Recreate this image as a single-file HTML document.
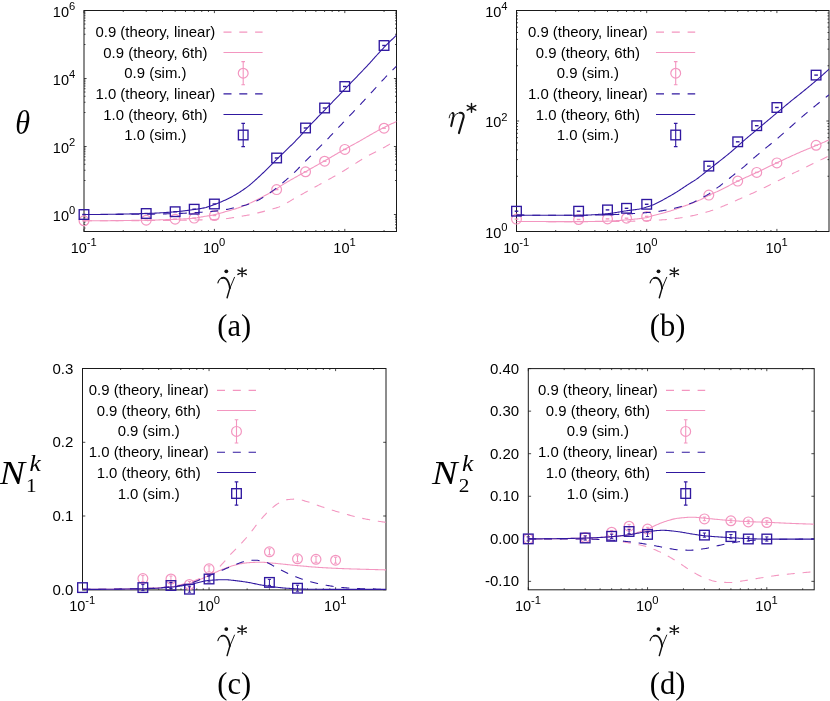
<!DOCTYPE html>
<html><head><meta charset="utf-8"><title>figure</title>
<style>
html,body{margin:0;padding:0;background:#fff;}
body{width:830px;height:701px;overflow:hidden;font-family:"Liberation Sans",sans-serif;}
svg{display:block;}
svg text{font-family:"Liberation Sans",sans-serif;}
</style></head><body>
<svg width="830" height="701" viewBox="0 0 830 701">
<rect width="830" height="701" fill="#fff"/>
<rect x="84.0" y="10.5" width="312.5" height="221.0" fill="none" stroke="#1a1a1a" stroke-width="1"/>
<path d="M84.00,231.5v-2.6M84.00,10.5v2.6M123.25,231.5v-1.5M123.25,10.5v1.5M146.22,231.5v-1.5M146.22,10.5v1.5M162.51,231.5v-1.5M162.51,10.5v1.5M175.15,231.5v-1.5M175.15,10.5v1.5M185.47,231.5v-1.5M185.47,10.5v1.5M194.20,231.5v-1.5M194.20,10.5v1.5M201.76,231.5v-1.5M201.76,10.5v1.5M208.43,231.5v-1.5M208.43,10.5v1.5M214.40,231.5v-2.6M214.40,10.5v2.6M253.65,231.5v-1.5M253.65,10.5v1.5M276.62,231.5v-1.5M276.62,10.5v1.5M292.91,231.5v-1.5M292.91,10.5v1.5M305.55,231.5v-1.5M305.55,10.5v1.5M315.87,231.5v-1.5M315.87,10.5v1.5M324.60,231.5v-1.5M324.60,10.5v1.5M332.16,231.5v-1.5M332.16,10.5v1.5M338.83,231.5v-1.5M338.83,10.5v1.5M344.80,231.5v-2.6M344.80,10.5v2.6M384.05,231.5v-1.5M384.05,10.5v1.5" stroke="#1a1a1a" stroke-width="0.8" fill="none"/>
<path d="M84.0,228.03h1.5M396.5,228.03h-1.5M84.0,224.74h1.5M396.5,224.74h-1.5M84.0,222.04h1.5M396.5,222.04h-1.5M84.0,219.77h1.5M396.5,219.77h-1.5M84.0,217.79h1.5M396.5,217.79h-1.5M84.0,216.06h1.5M396.5,216.06h-1.5M84.0,214.50h2.6M396.5,214.50h-2.6M84.0,180.50h1.5M396.5,180.50h-1.5M84.0,170.26h1.5M396.5,170.26h-1.5M84.0,164.28h1.5M396.5,164.28h-1.5M84.0,160.03h1.5M396.5,160.03h-1.5M84.0,156.74h1.5M396.5,156.74h-1.5M84.0,154.04h1.5M396.5,154.04h-1.5M84.0,151.77h1.5M396.5,151.77h-1.5M84.0,149.79h1.5M396.5,149.79h-1.5M84.0,148.06h1.5M396.5,148.06h-1.5M84.0,146.50h2.6M396.5,146.50h-2.6M84.0,112.50h1.5M396.5,112.50h-1.5M84.0,102.26h1.5M396.5,102.26h-1.5M84.0,96.28h1.5M396.5,96.28h-1.5M84.0,92.03h1.5M396.5,92.03h-1.5M84.0,88.74h1.5M396.5,88.74h-1.5M84.0,86.04h1.5M396.5,86.04h-1.5M84.0,83.77h1.5M396.5,83.77h-1.5M84.0,81.79h1.5M396.5,81.79h-1.5M84.0,80.06h1.5M396.5,80.06h-1.5M84.0,78.50h2.6M396.5,78.50h-2.6M84.0,44.50h1.5M396.5,44.50h-1.5M84.0,34.26h1.5M396.5,34.26h-1.5M84.0,28.28h1.5M396.5,28.28h-1.5M84.0,24.03h1.5M396.5,24.03h-1.5M84.0,20.74h1.5M396.5,20.74h-1.5M84.0,18.04h1.5M396.5,18.04h-1.5M84.0,15.77h1.5M396.5,15.77h-1.5M84.0,13.79h1.5M396.5,13.79h-1.5M84.0,12.06h1.5M396.5,12.06h-1.5M84.0,10.50h2.6M396.5,10.50h-2.6" stroke="#1a1a1a" stroke-width="0.8" fill="none"/>
<clipPath id="ca"><rect x="84.0" y="10.5" width="312.5" height="221.0"/></clipPath><g clip-path="url(#ca)">
<path d="M84.0,220.80 L85.0,220.80 L86.0,220.80 L87.0,220.80 L88.0,220.80 L89.0,220.80 L90.0,220.80 L91.0,220.80 L92.0,220.80 L93.0,220.79 L94.0,220.79 L95.0,220.79 L96.0,220.79 L97.0,220.79 L98.0,220.79 L99.0,220.78 L100.0,220.78 L101.0,220.78 L102.0,220.78 L103.0,220.78 L104.0,220.77 L105.0,220.77 L106.0,220.77 L107.0,220.77 L108.0,220.76 L109.0,220.76 L110.0,220.76 L111.0,220.75 L112.0,220.75 L113.0,220.75 L114.0,220.74 L115.0,220.74 L116.0,220.74 L117.0,220.73 L118.0,220.73 L119.0,220.73 L120.0,220.72 L121.0,220.72 L122.0,220.71 L123.0,220.71 L124.0,220.71 L125.0,220.70 L126.0,220.70 L127.0,220.69 L128.0,220.69 L129.0,220.68 L130.0,220.68 L131.0,220.67 L132.0,220.67 L133.0,220.67 L134.0,220.66 L135.0,220.66 L136.0,220.65 L137.0,220.65 L138.0,220.64 L139.0,220.64 L140.0,220.63 L141.0,220.63 L142.0,220.62 L143.0,220.62 L144.0,220.61 L145.0,220.61 L146.0,220.60 L147.0,220.59 L148.0,220.59 L149.0,220.58 L150.0,220.57 L151.0,220.57 L152.0,220.56 L153.0,220.55 L154.0,220.54 L155.0,220.53 L156.0,220.52 L157.0,220.51 L158.0,220.50 L159.0,220.49 L160.0,220.48 L161.0,220.47 L162.0,220.46 L163.0,220.45 L164.0,220.44 L165.0,220.42 L166.0,220.41 L167.0,220.40 L168.0,220.39 L169.0,220.38 L170.0,220.36 L171.0,220.35 L172.0,220.34 L173.0,220.33 L174.0,220.31 L175.0,220.30 L176.0,220.29 L177.0,220.27 L178.0,220.26 L179.0,220.25 L180.0,220.23 L181.0,220.22 L182.0,220.20 L183.0,220.19 L184.0,220.17 L185.0,220.16 L186.0,220.14 L187.0,220.13 L188.0,220.11 L189.0,220.09 L190.0,220.07 L191.0,220.06 L192.0,220.04 L193.0,220.02 L194.0,220.00 L195.0,219.98 L196.0,219.96 L197.0,219.94 L198.0,219.92 L199.0,219.90 L200.0,219.88 L201.0,219.86 L202.0,219.84 L203.0,219.82 L204.0,219.80 L205.0,219.77 L206.0,219.75 L207.0,219.72 L208.0,219.70 L209.0,219.67 L210.0,219.64 L211.0,219.61 L212.0,219.57 L213.0,219.54 L214.0,219.50 L215.0,219.46 L216.0,219.41 L217.0,219.36 L218.0,219.30 L219.0,219.24 L220.0,219.17 L221.0,219.10 L222.0,219.02 L223.0,218.94 L224.0,218.86 L225.0,218.77 L226.0,218.67 L227.0,218.56 L228.0,218.43 L229.0,218.29 L230.0,218.13 L231.0,217.97 L232.0,217.80 L233.0,217.62 L234.0,217.44 L235.0,217.26 L236.0,217.08 L237.0,216.90 L238.0,216.73 L239.0,216.57 L240.0,216.41 L241.0,216.25 L242.0,216.10 L243.0,215.94 L244.0,215.78 L245.0,215.62 L246.0,215.45 L247.0,215.28 L248.0,215.10 L249.0,214.92 L250.0,214.72 L251.0,214.52 L252.0,214.30 L253.0,214.08 L254.0,213.85 L255.0,213.62 L256.0,213.37 L257.0,213.13 L258.0,212.88 L259.0,212.63 L260.0,212.38 L261.0,212.13 L262.0,211.87 L263.0,211.62 L264.0,211.36 L265.0,211.10 L266.0,210.83 L267.0,210.56 L268.0,210.29 L269.0,210.01 L270.0,209.73 L271.0,209.44 L272.0,209.15 L273.0,208.85 L274.0,208.56 L275.0,208.26 L276.0,207.95 L277.0,207.63 L278.0,207.29 L279.0,206.92 L280.0,206.52 L281.0,206.08 L282.0,205.61 L283.0,205.11 L284.0,204.59 L285.0,204.04 L286.0,203.47 L287.0,202.89 L288.0,202.30 L289.0,201.70 L290.0,201.09 L291.0,200.48 L292.0,199.87 L293.0,199.27 L294.0,198.68 L295.0,198.09 L296.0,197.52 L297.0,196.97 L298.0,196.42 L299.0,195.87 L300.0,195.31 L301.0,194.76 L302.0,194.21 L303.0,193.67 L304.0,193.12 L305.0,192.57 L306.0,192.02 L307.0,191.47 L308.0,190.92 L309.0,190.37 L310.0,189.82 L311.0,189.27 L312.0,188.72 L313.0,188.17 L314.0,187.61 L315.0,187.06 L316.0,186.51 L317.0,185.96 L318.0,185.40 L319.0,184.85 L320.0,184.30 L321.0,183.74 L322.0,183.19 L323.0,182.63 L324.0,182.08 L325.0,181.52 L326.0,180.96 L327.0,180.40 L328.0,179.84 L329.0,179.29 L330.0,178.73 L331.0,178.17 L332.0,177.62 L333.0,177.06 L334.0,176.51 L335.0,175.95 L336.0,175.39 L337.0,174.82 L338.0,174.25 L339.0,173.67 L340.0,173.09 L341.0,172.50 L342.0,171.90 L343.0,171.29 L344.0,170.67 L345.0,170.05 L346.0,169.42 L347.0,168.79 L348.0,168.15 L349.0,167.51 L350.0,166.87 L351.0,166.23 L352.0,165.60 L353.0,164.96 L354.0,164.34 L355.0,163.71 L356.0,163.09 L357.0,162.46 L358.0,161.82 L359.0,161.19 L360.0,160.55 L361.0,159.92 L362.0,159.30 L363.0,158.68 L364.0,158.06 L365.0,157.46 L366.0,156.88 L367.0,156.30 L368.0,155.75 L369.0,155.21 L370.0,154.69 L371.0,154.18 L372.0,153.69 L373.0,153.21 L374.0,152.73 L375.0,152.25 L376.0,151.76 L377.0,151.28 L378.0,150.78 L379.0,150.27 L380.0,149.75 L381.0,149.21 L382.0,148.66 L383.0,148.10 L384.0,147.54 L385.0,146.97 L386.0,146.39 L387.0,145.81 L388.0,145.23 L389.0,144.64 L390.0,144.06 L391.0,143.48 L392.0,142.89 L393.0,142.32 L394.0,141.74 L395.0,141.17 L396.0,140.60 L396.7,140.20" fill="none" stroke="#f396c0" stroke-width="1.08" stroke-dasharray="8 7.8"/>
<path d="M84.0,220.80 L85.0,220.80 L86.0,220.80 L87.0,220.80 L88.0,220.80 L89.0,220.79 L90.0,220.79 L91.0,220.79 L92.0,220.79 L93.0,220.78 L94.0,220.78 L95.0,220.78 L96.0,220.77 L97.0,220.77 L98.0,220.76 L99.0,220.75 L100.0,220.75 L101.0,220.74 L102.0,220.74 L103.0,220.73 L104.0,220.72 L105.0,220.71 L106.0,220.71 L107.0,220.70 L108.0,220.69 L109.0,220.68 L110.0,220.67 L111.0,220.66 L112.0,220.65 L113.0,220.64 L114.0,220.63 L115.0,220.62 L116.0,220.61 L117.0,220.60 L118.0,220.59 L119.0,220.58 L120.0,220.57 L121.0,220.55 L122.0,220.54 L123.0,220.53 L124.0,220.52 L125.0,220.50 L126.0,220.49 L127.0,220.48 L128.0,220.47 L129.0,220.45 L130.0,220.44 L131.0,220.42 L132.0,220.41 L133.0,220.40 L134.0,220.38 L135.0,220.37 L136.0,220.35 L137.0,220.34 L138.0,220.32 L139.0,220.31 L140.0,220.29 L141.0,220.28 L142.0,220.26 L143.0,220.25 L144.0,220.23 L145.0,220.22 L146.0,220.20 L147.0,220.18 L148.0,220.17 L149.0,220.15 L150.0,220.13 L151.0,220.10 L152.0,220.08 L153.0,220.06 L154.0,220.03 L155.0,220.01 L156.0,219.98 L157.0,219.95 L158.0,219.92 L159.0,219.89 L160.0,219.86 L161.0,219.83 L162.0,219.79 L163.0,219.76 L164.0,219.72 L165.0,219.69 L166.0,219.65 L167.0,219.62 L168.0,219.58 L169.0,219.54 L170.0,219.50 L171.0,219.46 L172.0,219.42 L173.0,219.38 L174.0,219.34 L175.0,219.30 L176.0,219.26 L177.0,219.22 L178.0,219.17 L179.0,219.13 L180.0,219.09 L181.0,219.04 L182.0,219.00 L183.0,218.95 L184.0,218.89 L185.0,218.84 L186.0,218.78 L187.0,218.72 L188.0,218.66 L189.0,218.60 L190.0,218.53 L191.0,218.45 L192.0,218.37 L193.0,218.29 L194.0,218.20 L195.0,218.09 L196.0,217.96 L197.0,217.81 L198.0,217.63 L199.0,217.45 L200.0,217.26 L201.0,217.06 L202.0,216.87 L203.0,216.68 L204.0,216.50 L205.0,216.33 L206.0,216.17 L207.0,216.01 L208.0,215.86 L209.0,215.70 L210.0,215.53 L211.0,215.37 L212.0,215.19 L213.0,215.00 L214.0,214.80 L215.0,214.58 L216.0,214.35 L217.0,214.10 L218.0,213.84 L219.0,213.57 L220.0,213.29 L221.0,213.00 L222.0,212.71 L223.0,212.41 L224.0,212.12 L225.0,211.82 L226.0,211.53 L227.0,211.24 L228.0,210.96 L229.0,210.68 L230.0,210.40 L231.0,210.11 L232.0,209.83 L233.0,209.54 L234.0,209.24 L235.0,208.94 L236.0,208.62 L237.0,208.30 L238.0,207.97 L239.0,207.62 L240.0,207.26 L241.0,206.89 L242.0,206.50 L243.0,206.11 L244.0,205.70 L245.0,205.29 L246.0,204.87 L247.0,204.44 L248.0,204.01 L249.0,203.57 L250.0,203.12 L251.0,202.66 L252.0,202.20 L253.0,201.72 L254.0,201.23 L255.0,200.73 L256.0,200.23 L257.0,199.72 L258.0,199.21 L259.0,198.69 L260.0,198.17 L261.0,197.65 L262.0,197.13 L263.0,196.61 L264.0,196.09 L265.0,195.56 L266.0,195.03 L267.0,194.50 L268.0,193.96 L269.0,193.40 L270.0,192.85 L271.0,192.28 L272.0,191.69 L273.0,191.10 L274.0,190.48 L275.0,189.84 L276.0,189.19 L277.0,188.52 L278.0,187.84 L279.0,187.17 L280.0,186.49 L281.0,185.82 L282.0,185.16 L283.0,184.52 L284.0,183.90 L285.0,183.29 L286.0,182.69 L287.0,182.10 L288.0,181.52 L289.0,180.94 L290.0,180.36 L291.0,179.79 L292.0,179.23 L293.0,178.67 L294.0,178.11 L295.0,177.55 L296.0,177.00 L297.0,176.44 L298.0,175.89 L299.0,175.34 L300.0,174.79 L301.0,174.23 L302.0,173.67 L303.0,173.11 L304.0,172.55 L305.0,171.99 L306.0,171.42 L307.0,170.85 L308.0,170.29 L309.0,169.72 L310.0,169.16 L311.0,168.59 L312.0,168.03 L313.0,167.46 L314.0,166.90 L315.0,166.33 L316.0,165.76 L317.0,165.20 L318.0,164.63 L319.0,164.06 L320.0,163.50 L321.0,162.93 L322.0,162.36 L323.0,161.79 L324.0,161.21 L325.0,160.64 L326.0,160.07 L327.0,159.49 L328.0,158.91 L329.0,158.33 L330.0,157.74 L331.0,157.16 L332.0,156.58 L333.0,155.99 L334.0,155.41 L335.0,154.82 L336.0,154.24 L337.0,153.66 L338.0,153.08 L339.0,152.50 L340.0,151.93 L341.0,151.35 L342.0,150.79 L343.0,150.22 L344.0,149.66 L345.0,149.10 L346.0,148.54 L347.0,148.00 L348.0,147.45 L349.0,146.91 L350.0,146.37 L351.0,145.82 L352.0,145.28 L353.0,144.74 L354.0,144.20 L355.0,143.65 L356.0,143.10 L357.0,142.55 L358.0,141.99 L359.0,141.42 L360.0,140.85 L361.0,140.28 L362.0,139.71 L363.0,139.14 L364.0,138.56 L365.0,137.98 L366.0,137.40 L367.0,136.82 L368.0,136.25 L369.0,135.67 L370.0,135.09 L371.0,134.52 L372.0,133.95 L373.0,133.38 L374.0,132.81 L375.0,132.25 L376.0,131.69 L377.0,131.14 L378.0,130.59 L379.0,130.05 L380.0,129.51 L381.0,128.99 L382.0,128.47 L383.0,127.95 L384.0,127.45 L385.0,126.95 L386.0,126.46 L387.0,125.97 L388.0,125.49 L389.0,125.01 L390.0,124.54 L391.0,124.07 L392.0,123.61 L393.0,123.16 L394.0,122.70 L395.0,122.25 L396.0,121.81 L396.7,121.50" fill="none" stroke="#f396c0" stroke-width="1.08"/>
</g>
<circle cx="84.00" cy="220.80" r="4.9" fill="none" stroke="#f396c0" stroke-width="1.2"/>
<path d="M82.20,220.80h3.6" fill="none" stroke="#f396c0" stroke-width="1.4000000000000001"/>
<circle cx="146.22" cy="220.20" r="4.9" fill="none" stroke="#f396c0" stroke-width="1.2"/>
<path d="M144.42,220.20h3.6" fill="none" stroke="#f396c0" stroke-width="1.4000000000000001"/>
<circle cx="175.15" cy="219.20" r="4.9" fill="none" stroke="#f396c0" stroke-width="1.2"/>
<path d="M173.35,219.20h3.6" fill="none" stroke="#f396c0" stroke-width="1.4000000000000001"/>
<circle cx="194.20" cy="218.10" r="4.9" fill="none" stroke="#f396c0" stroke-width="1.2"/>
<path d="M192.40,218.10h3.6" fill="none" stroke="#f396c0" stroke-width="1.4000000000000001"/>
<circle cx="214.40" cy="215.50" r="4.9" fill="none" stroke="#f396c0" stroke-width="1.2"/>
<path d="M212.60,215.50h3.6" fill="none" stroke="#f396c0" stroke-width="1.4000000000000001"/>
<circle cx="276.62" cy="189.60" r="4.9" fill="none" stroke="#f396c0" stroke-width="1.2"/>
<path d="M274.82,189.60h3.6" fill="none" stroke="#f396c0" stroke-width="1.4000000000000001"/>
<circle cx="305.55" cy="171.80" r="4.9" fill="none" stroke="#f396c0" stroke-width="1.2"/>
<path d="M303.75,171.80h3.6" fill="none" stroke="#f396c0" stroke-width="1.4000000000000001"/>
<circle cx="324.60" cy="161.20" r="4.9" fill="none" stroke="#f396c0" stroke-width="1.2"/>
<path d="M322.80,161.20h3.6" fill="none" stroke="#f396c0" stroke-width="1.4000000000000001"/>
<circle cx="344.80" cy="149.40" r="4.9" fill="none" stroke="#f396c0" stroke-width="1.2"/>
<path d="M343.00,149.40h3.6" fill="none" stroke="#f396c0" stroke-width="1.4000000000000001"/>
<circle cx="384.05" cy="128.20" r="4.9" fill="none" stroke="#f396c0" stroke-width="1.2"/>
<path d="M382.25,128.20h3.6" fill="none" stroke="#f396c0" stroke-width="1.4000000000000001"/>
<g clip-path="url(#ca)">
<path d="M84.0,214.50 L85.0,214.50 L86.0,214.50 L87.0,214.50 L88.0,214.50 L89.0,214.50 L90.0,214.50 L91.0,214.50 L92.0,214.49 L93.0,214.49 L94.0,214.49 L95.0,214.49 L96.0,214.49 L97.0,214.48 L98.0,214.48 L99.0,214.48 L100.0,214.48 L101.0,214.47 L102.0,214.47 L103.0,214.47 L104.0,214.46 L105.0,214.46 L106.0,214.46 L107.0,214.45 L108.0,214.45 L109.0,214.44 L110.0,214.44 L111.0,214.44 L112.0,214.43 L113.0,214.43 L114.0,214.42 L115.0,214.42 L116.0,214.41 L117.0,214.41 L118.0,214.40 L119.0,214.39 L120.0,214.39 L121.0,214.38 L122.0,214.38 L123.0,214.37 L124.0,214.36 L125.0,214.36 L126.0,214.35 L127.0,214.34 L128.0,214.34 L129.0,214.33 L130.0,214.32 L131.0,214.32 L132.0,214.31 L133.0,214.30 L134.0,214.30 L135.0,214.29 L136.0,214.28 L137.0,214.27 L138.0,214.27 L139.0,214.26 L140.0,214.25 L141.0,214.24 L142.0,214.23 L143.0,214.23 L144.0,214.22 L145.0,214.21 L146.0,214.20 L147.0,214.19 L148.0,214.18 L149.0,214.17 L150.0,214.16 L151.0,214.14 L152.0,214.13 L153.0,214.12 L154.0,214.10 L155.0,214.08 L156.0,214.07 L157.0,214.05 L158.0,214.03 L159.0,214.01 L160.0,213.99 L161.0,213.97 L162.0,213.94 L163.0,213.92 L164.0,213.90 L165.0,213.87 L166.0,213.85 L167.0,213.82 L168.0,213.80 L169.0,213.77 L170.0,213.74 L171.0,213.72 L172.0,213.69 L173.0,213.66 L174.0,213.63 L175.0,213.60 L176.0,213.57 L177.0,213.54 L178.0,213.50 L179.0,213.46 L180.0,213.42 L181.0,213.38 L182.0,213.34 L183.0,213.29 L184.0,213.24 L185.0,213.19 L186.0,213.14 L187.0,213.09 L188.0,213.04 L189.0,212.98 L190.0,212.93 L191.0,212.87 L192.0,212.82 L193.0,212.76 L194.0,212.70 L195.0,212.64 L196.0,212.58 L197.0,212.52 L198.0,212.46 L199.0,212.40 L200.0,212.33 L201.0,212.26 L202.0,212.20 L203.0,212.13 L204.0,212.05 L205.0,211.98 L206.0,211.90 L207.0,211.82 L208.0,211.74 L209.0,211.66 L210.0,211.57 L211.0,211.48 L212.0,211.39 L213.0,211.30 L214.0,211.20 L215.0,211.10 L216.0,210.99 L217.0,210.87 L218.0,210.75 L219.0,210.62 L220.0,210.48 L221.0,210.34 L222.0,210.19 L223.0,210.04 L224.0,209.88 L225.0,209.72 L226.0,209.55 L227.0,209.36 L228.0,209.17 L229.0,208.95 L230.0,208.73 L231.0,208.51 L232.0,208.28 L233.0,208.05 L234.0,207.83 L235.0,207.62 L236.0,207.41 L237.0,207.20 L238.0,206.99 L239.0,206.77 L240.0,206.55 L241.0,206.33 L242.0,206.09 L243.0,205.84 L244.0,205.57 L245.0,205.29 L246.0,205.00 L247.0,204.68 L248.0,204.36 L249.0,204.02 L250.0,203.67 L251.0,203.30 L252.0,202.93 L253.0,202.54 L254.0,202.14 L255.0,201.72 L256.0,201.27 L257.0,200.81 L258.0,200.31 L259.0,199.79 L260.0,199.23 L261.0,198.63 L262.0,198.00 L263.0,197.34 L264.0,196.67 L265.0,196.00 L266.0,195.33 L267.0,194.67 L268.0,194.02 L269.0,193.37 L270.0,192.72 L271.0,192.05 L272.0,191.36 L273.0,190.63 L274.0,189.88 L275.0,189.10 L276.0,188.30 L277.0,187.49 L278.0,186.67 L279.0,185.85 L280.0,185.03 L281.0,184.21 L282.0,183.39 L283.0,182.56 L284.0,181.73 L285.0,180.90 L286.0,180.06 L287.0,179.20 L288.0,178.34 L289.0,177.46 L290.0,176.57 L291.0,175.67 L292.0,174.74 L293.0,173.79 L294.0,172.82 L295.0,171.83 L296.0,170.82 L297.0,169.80 L298.0,168.78 L299.0,167.75 L300.0,166.73 L301.0,165.71 L302.0,164.70 L303.0,163.70 L304.0,162.70 L305.0,161.70 L306.0,160.70 L307.0,159.70 L308.0,158.70 L309.0,157.70 L310.0,156.70 L311.0,155.70 L312.0,154.70 L313.0,153.70 L314.0,152.70 L315.0,151.71 L316.0,150.71 L317.0,149.72 L318.0,148.73 L319.0,147.74 L320.0,146.74 L321.0,145.74 L322.0,144.74 L323.0,143.73 L324.0,142.71 L325.0,141.69 L326.0,140.65 L327.0,139.62 L328.0,138.57 L329.0,137.52 L330.0,136.47 L331.0,135.41 L332.0,134.35 L333.0,133.30 L334.0,132.24 L335.0,131.19 L336.0,130.14 L337.0,129.08 L338.0,128.03 L339.0,126.97 L340.0,125.91 L341.0,124.85 L342.0,123.80 L343.0,122.74 L344.0,121.69 L345.0,120.63 L346.0,119.58 L347.0,118.53 L348.0,117.48 L349.0,116.44 L350.0,115.40 L351.0,114.35 L352.0,113.31 L353.0,112.26 L354.0,111.21 L355.0,110.16 L356.0,109.10 L357.0,108.04 L358.0,106.97 L359.0,105.90 L360.0,104.83 L361.0,103.76 L362.0,102.69 L363.0,101.61 L364.0,100.53 L365.0,99.46 L366.0,98.38 L367.0,97.29 L368.0,96.21 L369.0,95.13 L370.0,94.04 L371.0,92.96 L372.0,91.88 L373.0,90.79 L374.0,89.70 L375.0,88.60 L376.0,87.50 L377.0,86.40 L378.0,85.29 L379.0,84.19 L380.0,83.09 L381.0,82.00 L382.0,80.92 L383.0,79.85 L384.0,78.80 L385.0,77.75 L386.0,76.71 L387.0,75.68 L388.0,74.65 L389.0,73.63 L390.0,72.62 L391.0,71.61 L392.0,70.61 L393.0,69.61 L394.0,68.63 L395.0,67.65 L396.0,66.68 L396.7,66.00" fill="none" stroke="#3018a0" stroke-width="1.08" stroke-dasharray="8 7.8"/>
<path d="M84.0,214.50 L85.0,214.50 L86.0,214.50 L87.0,214.50 L88.0,214.49 L89.0,214.49 L90.0,214.49 L91.0,214.48 L92.0,214.48 L93.0,214.47 L94.0,214.47 L95.0,214.46 L96.0,214.45 L97.0,214.45 L98.0,214.44 L99.0,214.43 L100.0,214.42 L101.0,214.41 L102.0,214.40 L103.0,214.39 L104.0,214.37 L105.0,214.36 L106.0,214.35 L107.0,214.34 L108.0,214.32 L109.0,214.31 L110.0,214.29 L111.0,214.28 L112.0,214.26 L113.0,214.25 L114.0,214.23 L115.0,214.21 L116.0,214.20 L117.0,214.18 L118.0,214.16 L119.0,214.14 L120.0,214.12 L121.0,214.10 L122.0,214.08 L123.0,214.06 L124.0,214.04 L125.0,214.02 L126.0,214.00 L127.0,213.98 L128.0,213.95 L129.0,213.93 L130.0,213.91 L131.0,213.89 L132.0,213.86 L133.0,213.84 L134.0,213.81 L135.0,213.79 L136.0,213.77 L137.0,213.74 L138.0,213.72 L139.0,213.69 L140.0,213.66 L141.0,213.64 L142.0,213.61 L143.0,213.59 L144.0,213.56 L145.0,213.53 L146.0,213.51 L147.0,213.48 L148.0,213.45 L149.0,213.41 L150.0,213.38 L151.0,213.34 L152.0,213.30 L153.0,213.25 L154.0,213.21 L155.0,213.16 L156.0,213.11 L157.0,213.05 L158.0,213.00 L159.0,212.94 L160.0,212.88 L161.0,212.82 L162.0,212.76 L163.0,212.69 L164.0,212.62 L165.0,212.56 L166.0,212.49 L167.0,212.41 L168.0,212.34 L169.0,212.27 L170.0,212.19 L171.0,212.12 L172.0,212.04 L173.0,211.96 L174.0,211.88 L175.0,211.80 L176.0,211.72 L177.0,211.63 L178.0,211.53 L179.0,211.43 L180.0,211.33 L181.0,211.22 L182.0,211.10 L183.0,210.99 L184.0,210.87 L185.0,210.74 L186.0,210.62 L187.0,210.49 L188.0,210.35 L189.0,210.22 L190.0,210.08 L191.0,209.95 L192.0,209.81 L193.0,209.67 L194.0,209.53 L195.0,209.39 L196.0,209.25 L197.0,209.11 L198.0,208.96 L199.0,208.81 L200.0,208.65 L201.0,208.48 L202.0,208.30 L203.0,208.11 L204.0,207.90 L205.0,207.67 L206.0,207.41 L207.0,207.12 L208.0,206.81 L209.0,206.48 L210.0,206.14 L211.0,205.79 L212.0,205.43 L213.0,205.06 L214.0,204.70 L215.0,204.33 L216.0,203.96 L217.0,203.57 L218.0,203.17 L219.0,202.77 L220.0,202.35 L221.0,201.93 L222.0,201.49 L223.0,201.05 L224.0,200.60 L225.0,200.14 L226.0,199.68 L227.0,199.20 L228.0,198.72 L229.0,198.22 L230.0,197.72 L231.0,197.20 L232.0,196.66 L233.0,196.12 L234.0,195.57 L235.0,195.00 L236.0,194.42 L237.0,193.83 L238.0,193.22 L239.0,192.60 L240.0,191.97 L241.0,191.32 L242.0,190.65 L243.0,189.97 L244.0,189.28 L245.0,188.56 L246.0,187.84 L247.0,187.10 L248.0,186.34 L249.0,185.57 L250.0,184.78 L251.0,183.95 L252.0,183.08 L253.0,182.19 L254.0,181.30 L255.0,180.41 L256.0,179.51 L257.0,178.60 L258.0,177.69 L259.0,176.77 L260.0,175.83 L261.0,174.89 L262.0,173.94 L263.0,172.99 L264.0,172.02 L265.0,171.04 L266.0,170.06 L267.0,169.07 L268.0,168.08 L269.0,167.08 L270.0,166.09 L271.0,165.09 L272.0,164.10 L273.0,163.10 L274.0,162.10 L275.0,161.10 L276.0,160.10 L277.0,159.10 L278.0,158.12 L279.0,157.13 L280.0,156.16 L281.0,155.19 L282.0,154.22 L283.0,153.25 L284.0,152.29 L285.0,151.32 L286.0,150.36 L287.0,149.40 L288.0,148.43 L289.0,147.46 L290.0,146.48 L291.0,145.50 L292.0,144.52 L293.0,143.52 L294.0,142.52 L295.0,141.51 L296.0,140.49 L297.0,139.46 L298.0,138.42 L299.0,137.37 L300.0,136.30 L301.0,135.20 L302.0,134.05 L303.0,132.89 L304.0,131.74 L305.0,130.61 L306.0,129.52 L307.0,128.44 L308.0,127.36 L309.0,126.30 L310.0,125.24 L311.0,124.20 L312.0,123.15 L313.0,122.12 L314.0,121.08 L315.0,120.05 L316.0,119.03 L317.0,118.00 L318.0,116.98 L319.0,115.96 L320.0,114.93 L321.0,113.91 L322.0,112.88 L323.0,111.85 L324.0,110.82 L325.0,109.78 L326.0,108.74 L327.0,107.70 L328.0,106.67 L329.0,105.63 L330.0,104.60 L331.0,103.56 L332.0,102.53 L333.0,101.49 L334.0,100.46 L335.0,99.42 L336.0,98.38 L337.0,97.34 L338.0,96.30 L339.0,95.26 L340.0,94.21 L341.0,93.16 L342.0,92.11 L343.0,91.07 L344.0,90.02 L345.0,88.97 L346.0,87.93 L347.0,86.89 L348.0,85.85 L349.0,84.81 L350.0,83.77 L351.0,82.74 L352.0,81.70 L353.0,80.67 L354.0,79.63 L355.0,78.59 L356.0,77.56 L357.0,76.52 L358.0,75.48 L359.0,74.44 L360.0,73.39 L361.0,72.35 L362.0,71.30 L363.0,70.25 L364.0,69.19 L365.0,68.13 L366.0,67.07 L367.0,66.01 L368.0,64.93 L369.0,63.85 L370.0,62.76 L371.0,61.65 L372.0,60.55 L373.0,59.44 L374.0,58.32 L375.0,57.21 L376.0,56.10 L377.0,54.99 L378.0,53.89 L379.0,52.79 L380.0,51.71 L381.0,50.63 L382.0,49.57 L383.0,48.52 L384.0,47.48 L385.0,46.46 L386.0,45.44 L387.0,44.43 L388.0,43.43 L389.0,42.43 L390.0,41.44 L391.0,40.46 L392.0,39.49 L393.0,38.52 L394.0,37.57 L395.0,36.61 L396.0,35.67 L396.5,35.20" fill="none" stroke="#3018a0" stroke-width="1.08"/>
</g>
<rect x="79.20" y="209.70" width="9.6" height="9.6" fill="none" stroke="#3018a0" stroke-width="1.35"/>
<path d="M82.20,214.50h3.6" fill="none" stroke="#3018a0" stroke-width="1.4000000000000001"/>
<rect x="141.42" y="208.70" width="9.6" height="9.6" fill="none" stroke="#3018a0" stroke-width="1.35"/>
<path d="M144.42,213.50h3.6" fill="none" stroke="#3018a0" stroke-width="1.4000000000000001"/>
<rect x="170.35" y="206.90" width="9.6" height="9.6" fill="none" stroke="#3018a0" stroke-width="1.35"/>
<path d="M173.35,211.70h3.6" fill="none" stroke="#3018a0" stroke-width="1.4000000000000001"/>
<rect x="189.40" y="204.40" width="9.6" height="9.6" fill="none" stroke="#3018a0" stroke-width="1.35"/>
<path d="M192.40,209.20h3.6" fill="none" stroke="#3018a0" stroke-width="1.4000000000000001"/>
<rect x="209.60" y="199.20" width="9.6" height="9.6" fill="none" stroke="#3018a0" stroke-width="1.35"/>
<path d="M212.60,204.00h3.6" fill="none" stroke="#3018a0" stroke-width="1.4000000000000001"/>
<rect x="271.82" y="153.20" width="9.6" height="9.6" fill="none" stroke="#3018a0" stroke-width="1.35"/>
<path d="M274.82,158.00h3.6" fill="none" stroke="#3018a0" stroke-width="1.4000000000000001"/>
<rect x="300.75" y="123.20" width="9.6" height="9.6" fill="none" stroke="#3018a0" stroke-width="1.35"/>
<path d="M303.75,128.00h3.6" fill="none" stroke="#3018a0" stroke-width="1.4000000000000001"/>
<rect x="319.80" y="103.20" width="9.6" height="9.6" fill="none" stroke="#3018a0" stroke-width="1.35"/>
<path d="M322.80,108.00h3.6" fill="none" stroke="#3018a0" stroke-width="1.4000000000000001"/>
<rect x="340.00" y="81.70" width="9.6" height="9.6" fill="none" stroke="#3018a0" stroke-width="1.35"/>
<path d="M343.00,86.50h3.6" fill="none" stroke="#3018a0" stroke-width="1.4000000000000001"/>
<rect x="379.25" y="40.70" width="9.6" height="9.6" fill="none" stroke="#3018a0" stroke-width="1.35"/>
<path d="M382.25,45.50h3.6" fill="none" stroke="#3018a0" stroke-width="1.4000000000000001"/>
<path d="M223.5,32.1H262.6" stroke="#f396c0" stroke-width="1.1" stroke-dasharray="8 7.8" fill="none"/>
<path d="M223.5,52.5H262.6" stroke="#f396c0" stroke-width="1.15" fill="none"/>
<circle cx="243.20" cy="73.20" r="4.9" fill="none" stroke="#f396c0" stroke-width="1.2"/>
<path d="M243.20,61.60V84.80M241.40,61.60h3.6M241.40,84.80h3.6" fill="none" stroke="#f396c0" stroke-width="1.1"/>
<path d="M223.5,93.9H262.6" stroke="#3018a0" stroke-width="1.1" stroke-dasharray="8 7.8" fill="none"/>
<path d="M223.5,114.5H262.6" stroke="#3018a0" stroke-width="1.15" fill="none"/>
<rect x="238.40" y="130.20" width="9.6" height="9.6" fill="none" stroke="#3018a0" stroke-width="1.35"/>
<path d="M243.20,123.40V146.60M241.40,123.40h3.6M241.40,146.60h3.6" fill="none" stroke="#3018a0" stroke-width="1.1"/>
<g transform="translate(217.80,276.60)" fill="none" stroke="#111" stroke-linecap="round" stroke-linejoin="round"><path d="M0.1,6.3 C0.7,3.8 2.4,1.7 4.8,1.1" stroke-width="1.15"/><path d="M3.9,1.5 C6.9,0.3 9.3,2.4 10.7,6.0 C11.5,8.0 11.9,10.0 12.0,11.6" stroke-width="1.75"/><path d="M16.7,0.7 L12.2,11.4" stroke-width="0.95"/><path d="M12.3,10.8 L9.3,21.2" stroke-width="1.45"/></g>
<circle cx="226.30" cy="271.30" r="1.9" fill="#111"/>
<path d="M242.10,267.90L242.10,276.50M237.92,269.98L246.28,274.42M246.28,269.98L237.92,274.42" stroke="#111" stroke-width="1.45" stroke-linecap="round" fill="none"/>
<rect x="516.5" y="10.5" width="312.5" height="221.0" fill="none" stroke="#1a1a1a" stroke-width="1"/>
<path d="M516.50,231.5v-2.6M516.50,10.5v2.6M555.69,231.5v-1.5M555.69,10.5v1.5M578.62,231.5v-1.5M578.62,10.5v1.5M594.89,231.5v-1.5M594.89,10.5v1.5M607.51,231.5v-1.5M607.51,10.5v1.5M617.82,231.5v-1.5M617.82,10.5v1.5M626.53,231.5v-1.5M626.53,10.5v1.5M634.08,231.5v-1.5M634.08,10.5v1.5M640.74,231.5v-1.5M640.74,10.5v1.5M646.70,231.5v-2.6M646.70,10.5v2.6M685.89,231.5v-1.5M685.89,10.5v1.5M708.82,231.5v-1.5M708.82,10.5v1.5M725.09,231.5v-1.5M725.09,10.5v1.5M737.71,231.5v-1.5M737.71,10.5v1.5M748.02,231.5v-1.5M748.02,10.5v1.5M756.73,231.5v-1.5M756.73,10.5v1.5M764.28,231.5v-1.5M764.28,10.5v1.5M770.94,231.5v-1.5M770.94,10.5v1.5M776.90,231.5v-2.6M776.90,10.5v2.6M816.09,231.5v-1.5M816.09,10.5v1.5" stroke="#1a1a1a" stroke-width="0.8" fill="none"/>
<path d="M516.5,231.50h2.6M829.0,231.50h-2.6M516.5,176.25h1.5M829.0,176.25h-1.5M516.5,159.62h1.5M829.0,159.62h-1.5M516.5,149.89h1.5M829.0,149.89h-1.5M516.5,142.99h1.5M829.0,142.99h-1.5M516.5,137.63h1.5M829.0,137.63h-1.5M516.5,133.26h1.5M829.0,133.26h-1.5M516.5,129.56h1.5M829.0,129.56h-1.5M516.5,126.35h1.5M829.0,126.35h-1.5M516.5,123.53h1.5M829.0,123.53h-1.5M516.5,121.00h2.6M829.0,121.00h-2.6M516.5,65.75h1.5M829.0,65.75h-1.5M516.5,49.12h1.5M829.0,49.12h-1.5M516.5,39.39h1.5M829.0,39.39h-1.5M516.5,32.49h1.5M829.0,32.49h-1.5M516.5,27.13h1.5M829.0,27.13h-1.5M516.5,22.76h1.5M829.0,22.76h-1.5M516.5,19.06h1.5M829.0,19.06h-1.5M516.5,15.85h1.5M829.0,15.85h-1.5M516.5,13.03h1.5M829.0,13.03h-1.5M516.5,10.50h2.6M829.0,10.50h-2.6" stroke="#1a1a1a" stroke-width="0.8" fill="none"/>
<clipPath id="cb"><rect x="516.5" y="10.5" width="312.5" height="221.0"/></clipPath><g clip-path="url(#cb)">
<path d="M516.7,221.50 L517.7,221.50 L518.7,221.51 L519.7,221.51 L520.7,221.52 L521.7,221.52 L522.7,221.53 L523.7,221.53 L524.7,221.53 L525.7,221.54 L526.7,221.54 L527.7,221.54 L528.7,221.55 L529.7,221.55 L530.7,221.55 L531.7,221.56 L532.7,221.56 L533.7,221.56 L534.7,221.56 L535.7,221.57 L536.7,221.57 L537.7,221.57 L538.7,221.57 L539.7,221.58 L540.7,221.58 L541.7,221.58 L542.7,221.58 L543.7,221.58 L544.7,221.58 L545.7,221.58 L546.7,221.59 L547.7,221.59 L548.7,221.59 L549.7,221.59 L550.7,221.59 L551.7,221.59 L552.7,221.59 L553.7,221.59 L554.7,221.59 L555.7,221.59 L556.7,221.60 L557.7,221.60 L558.7,221.60 L559.7,221.60 L560.7,221.60 L561.7,221.60 L562.7,221.60 L563.7,221.60 L564.7,221.60 L565.7,221.60 L566.7,221.60 L567.7,221.60 L568.7,221.60 L569.7,221.60 L570.7,221.60 L571.7,221.60 L572.7,221.60 L573.7,221.60 L574.7,221.60 L575.7,221.60 L576.7,221.60 L577.7,221.60 L578.7,221.60 L579.7,221.60 L580.7,221.60 L581.7,221.60 L582.7,221.60 L583.7,221.60 L584.7,221.59 L585.7,221.59 L586.7,221.59 L587.7,221.59 L588.7,221.58 L589.7,221.58 L590.7,221.58 L591.7,221.57 L592.7,221.57 L593.7,221.57 L594.7,221.56 L595.7,221.56 L596.7,221.55 L597.7,221.55 L598.7,221.54 L599.7,221.54 L600.7,221.53 L601.7,221.53 L602.7,221.52 L603.7,221.52 L604.7,221.51 L605.7,221.51 L606.7,221.50 L607.7,221.50 L608.7,221.49 L609.7,221.48 L610.7,221.48 L611.7,221.47 L612.7,221.46 L613.7,221.45 L614.7,221.44 L615.7,221.44 L616.7,221.42 L617.7,221.41 L618.7,221.40 L619.7,221.39 L620.7,221.38 L621.7,221.37 L622.7,221.35 L623.7,221.34 L624.7,221.33 L625.7,221.31 L626.7,221.30 L627.7,221.28 L628.7,221.26 L629.7,221.24 L630.7,221.22 L631.7,221.19 L632.7,221.17 L633.7,221.14 L634.7,221.11 L635.7,221.08 L636.7,221.05 L637.7,221.02 L638.7,220.99 L639.7,220.96 L640.7,220.92 L641.7,220.89 L642.7,220.85 L643.7,220.81 L644.7,220.77 L645.7,220.74 L646.7,220.70 L647.7,220.66 L648.7,220.61 L649.7,220.57 L650.7,220.52 L651.7,220.48 L652.7,220.43 L653.7,220.38 L654.7,220.32 L655.7,220.27 L656.7,220.21 L657.7,220.15 L658.7,220.09 L659.7,220.03 L660.7,219.96 L661.7,219.89 L662.7,219.82 L663.7,219.75 L664.7,219.67 L665.7,219.59 L666.7,219.50 L667.7,219.41 L668.7,219.31 L669.7,219.21 L670.7,219.10 L671.7,218.99 L672.7,218.87 L673.7,218.75 L674.7,218.63 L675.7,218.50 L676.7,218.37 L677.7,218.23 L678.7,218.10 L679.7,217.95 L680.7,217.81 L681.7,217.66 L682.7,217.52 L683.7,217.36 L684.7,217.20 L685.7,217.03 L686.7,216.85 L687.7,216.66 L688.7,216.47 L689.7,216.27 L690.7,216.06 L691.7,215.85 L692.7,215.64 L693.7,215.42 L694.7,215.19 L695.7,214.97 L696.7,214.74 L697.7,214.50 L698.7,214.26 L699.7,214.01 L700.7,213.75 L701.7,213.49 L702.7,213.22 L703.7,212.94 L704.7,212.66 L705.7,212.37 L706.7,212.08 L707.7,211.78 L708.7,211.47 L709.7,211.15 L710.7,210.83 L711.7,210.49 L712.7,210.14 L713.7,209.79 L714.7,209.43 L715.7,209.06 L716.7,208.68 L717.7,208.30 L718.7,207.92 L719.7,207.53 L720.7,207.13 L721.7,206.74 L722.7,206.34 L723.7,205.93 L724.7,205.52 L725.7,205.10 L726.7,204.67 L727.7,204.23 L728.7,203.79 L729.7,203.35 L730.7,202.90 L731.7,202.45 L732.7,202.00 L733.7,201.55 L734.7,201.10 L735.7,200.66 L736.7,200.21 L737.7,199.77 L738.7,199.33 L739.7,198.89 L740.7,198.45 L741.7,198.01 L742.7,197.57 L743.7,197.13 L744.7,196.70 L745.7,196.26 L746.7,195.82 L747.7,195.37 L748.7,194.93 L749.7,194.49 L750.7,194.04 L751.7,193.59 L752.7,193.14 L753.7,192.68 L754.7,192.22 L755.7,191.76 L756.7,191.29 L757.7,190.82 L758.7,190.35 L759.7,189.87 L760.7,189.38 L761.7,188.89 L762.7,188.40 L763.7,187.90 L764.7,187.41 L765.7,186.91 L766.7,186.41 L767.7,185.90 L768.7,185.40 L769.7,184.90 L770.7,184.39 L771.7,183.89 L772.7,183.39 L773.7,182.89 L774.7,182.39 L775.7,181.89 L776.7,181.40 L777.7,180.91 L778.7,180.42 L779.7,179.93 L780.7,179.44 L781.7,178.95 L782.7,178.46 L783.7,177.97 L784.7,177.49 L785.7,177.00 L786.7,176.51 L787.7,176.02 L788.7,175.54 L789.7,175.05 L790.7,174.56 L791.7,174.08 L792.7,173.59 L793.7,173.10 L794.7,172.62 L795.7,172.13 L796.7,171.64 L797.7,171.16 L798.7,170.67 L799.7,170.18 L800.7,169.69 L801.7,169.20 L802.7,168.71 L803.7,168.22 L804.7,167.73 L805.7,167.24 L806.7,166.75 L807.7,166.26 L808.7,165.77 L809.7,165.28 L810.7,164.79 L811.7,164.30 L812.7,163.81 L813.7,163.32 L814.7,162.83 L815.7,162.34 L816.7,161.85 L817.7,161.36 L818.7,160.87 L819.7,160.38 L820.7,159.88 L821.7,159.39 L822.7,158.90 L823.7,158.41 L824.7,157.92 L825.7,157.42 L826.7,156.93 L827.7,156.44 L828.7,155.95 L829.0,155.80" fill="none" stroke="#f396c0" stroke-width="1.08" stroke-dasharray="8 7.8"/>
<path d="M516.5,221.50 L517.5,221.50 L518.5,221.51 L519.5,221.51 L520.5,221.52 L521.5,221.52 L522.5,221.53 L523.5,221.53 L524.5,221.53 L525.5,221.54 L526.5,221.54 L527.5,221.54 L528.5,221.55 L529.5,221.55 L530.5,221.55 L531.5,221.56 L532.5,221.56 L533.5,221.56 L534.5,221.56 L535.5,221.57 L536.5,221.57 L537.5,221.57 L538.5,221.57 L539.5,221.58 L540.5,221.58 L541.5,221.58 L542.5,221.58 L543.5,221.58 L544.5,221.58 L545.5,221.58 L546.5,221.59 L547.5,221.59 L548.5,221.59 L549.5,221.59 L550.5,221.59 L551.5,221.59 L552.5,221.59 L553.5,221.59 L554.5,221.59 L555.5,221.59 L556.5,221.60 L557.5,221.60 L558.5,221.60 L559.5,221.60 L560.5,221.60 L561.5,221.60 L562.5,221.60 L563.5,221.60 L564.5,221.60 L565.5,221.60 L566.5,221.60 L567.5,221.60 L568.5,221.60 L569.5,221.60 L570.5,221.60 L571.5,221.60 L572.5,221.60 L573.5,221.60 L574.5,221.60 L575.5,221.60 L576.5,221.60 L577.5,221.60 L578.5,221.60 L579.5,221.60 L580.5,221.60 L581.5,221.59 L582.5,221.59 L583.5,221.58 L584.5,221.57 L585.5,221.56 L586.5,221.55 L587.5,221.54 L588.5,221.53 L589.5,221.51 L590.5,221.49 L591.5,221.48 L592.5,221.46 L593.5,221.44 L594.5,221.42 L595.5,221.40 L596.5,221.38 L597.5,221.35 L598.5,221.33 L599.5,221.31 L600.5,221.28 L601.5,221.26 L602.5,221.23 L603.5,221.20 L604.5,221.18 L605.5,221.15 L606.5,221.12 L607.5,221.09 L608.5,221.06 L609.5,221.02 L610.5,220.98 L611.5,220.93 L612.5,220.88 L613.5,220.82 L614.5,220.76 L615.5,220.70 L616.5,220.64 L617.5,220.57 L618.5,220.50 L619.5,220.43 L620.5,220.35 L621.5,220.28 L622.5,220.20 L623.5,220.12 L624.5,220.05 L625.5,219.97 L626.5,219.89 L627.5,219.81 L628.5,219.73 L629.5,219.64 L630.5,219.55 L631.5,219.46 L632.5,219.36 L633.5,219.26 L634.5,219.16 L635.5,219.05 L636.5,218.95 L637.5,218.84 L638.5,218.73 L639.5,218.62 L640.5,218.51 L641.5,218.39 L642.5,218.27 L643.5,218.13 L644.5,217.98 L645.5,217.82 L646.5,217.64 L647.5,217.42 L648.5,217.13 L649.5,216.80 L650.5,216.45 L651.5,216.12 L652.5,215.83 L653.5,215.54 L654.5,215.27 L655.5,215.00 L656.5,214.74 L657.5,214.47 L658.5,214.22 L659.5,213.96 L660.5,213.70 L661.5,213.44 L662.5,213.18 L663.5,212.92 L664.5,212.65 L665.5,212.38 L666.5,212.10 L667.5,211.82 L668.5,211.52 L669.5,211.22 L670.5,210.90 L671.5,210.58 L672.5,210.26 L673.5,209.92 L674.5,209.58 L675.5,209.24 L676.5,208.89 L677.5,208.54 L678.5,208.18 L679.5,207.82 L680.5,207.46 L681.5,207.09 L682.5,206.73 L683.5,206.36 L684.5,206.00 L685.5,205.63 L686.5,205.27 L687.5,204.90 L688.5,204.53 L689.5,204.16 L690.5,203.78 L691.5,203.40 L692.5,203.02 L693.5,202.63 L694.5,202.23 L695.5,201.83 L696.5,201.42 L697.5,201.00 L698.5,200.57 L699.5,200.12 L700.5,199.67 L701.5,199.18 L702.5,198.67 L703.5,198.14 L704.5,197.61 L705.5,197.06 L706.5,196.53 L707.5,196.00 L708.5,195.50 L709.5,195.02 L710.5,194.55 L711.5,194.09 L712.5,193.64 L713.5,193.20 L714.5,192.76 L715.5,192.32 L716.5,191.87 L717.5,191.43 L718.5,190.98 L719.5,190.52 L720.5,190.04 L721.5,189.56 L722.5,189.06 L723.5,188.56 L724.5,188.04 L725.5,187.52 L726.5,186.99 L727.5,186.46 L728.5,185.93 L729.5,185.39 L730.5,184.86 L731.5,184.33 L732.5,183.80 L733.5,183.27 L734.5,182.75 L735.5,182.24 L736.5,181.74 L737.5,181.25 L738.5,180.77 L739.5,180.29 L740.5,179.82 L741.5,179.36 L742.5,178.90 L743.5,178.45 L744.5,177.99 L745.5,177.54 L746.5,177.10 L747.5,176.65 L748.5,176.20 L749.5,175.76 L750.5,175.31 L751.5,174.86 L752.5,174.42 L753.5,173.96 L754.5,173.51 L755.5,173.05 L756.5,172.59 L757.5,172.12 L758.5,171.65 L759.5,171.17 L760.5,170.70 L761.5,170.22 L762.5,169.73 L763.5,169.25 L764.5,168.77 L765.5,168.28 L766.5,167.80 L767.5,167.31 L768.5,166.82 L769.5,166.34 L770.5,165.86 L771.5,165.37 L772.5,164.89 L773.5,164.41 L774.5,163.94 L775.5,163.46 L776.5,162.99 L777.5,162.53 L778.5,162.06 L779.5,161.59 L780.5,161.12 L781.5,160.66 L782.5,160.19 L783.5,159.72 L784.5,159.26 L785.5,158.80 L786.5,158.33 L787.5,157.87 L788.5,157.41 L789.5,156.95 L790.5,156.49 L791.5,156.04 L792.5,155.59 L793.5,155.13 L794.5,154.68 L795.5,154.24 L796.5,153.79 L797.5,153.35 L798.5,152.91 L799.5,152.47 L800.5,152.03 L801.5,151.60 L802.5,151.17 L803.5,150.75 L804.5,150.33 L805.5,149.92 L806.5,149.51 L807.5,149.11 L808.5,148.70 L809.5,148.30 L810.5,147.90 L811.5,147.49 L812.5,147.08 L813.5,146.67 L814.5,146.26 L815.5,145.84 L816.5,145.41 L817.5,144.99 L818.5,144.56 L819.5,144.12 L820.5,143.69 L821.5,143.25 L822.5,142.81 L823.5,142.37 L824.5,141.92 L825.5,141.48 L826.5,141.03 L827.5,140.58 L828.5,140.13 L829.0,139.90" fill="none" stroke="#f396c0" stroke-width="1.08"/>
</g>
<circle cx="516.50" cy="219.10" r="4.9" fill="none" stroke="#f396c0" stroke-width="1.2"/>
<path d="M514.70,219.10h3.6" fill="none" stroke="#f396c0" stroke-width="1.4000000000000001"/>
<circle cx="578.62" cy="219.50" r="4.9" fill="none" stroke="#f396c0" stroke-width="1.2"/>
<path d="M576.82,219.50h3.6" fill="none" stroke="#f396c0" stroke-width="1.4000000000000001"/>
<circle cx="607.51" cy="218.90" r="4.9" fill="none" stroke="#f396c0" stroke-width="1.2"/>
<path d="M605.71,218.90h3.6" fill="none" stroke="#f396c0" stroke-width="1.4000000000000001"/>
<circle cx="626.53" cy="218.20" r="4.9" fill="none" stroke="#f396c0" stroke-width="1.2"/>
<path d="M624.73,218.20h3.6" fill="none" stroke="#f396c0" stroke-width="1.4000000000000001"/>
<circle cx="646.70" cy="216.40" r="4.9" fill="none" stroke="#f396c0" stroke-width="1.2"/>
<path d="M644.90,216.40h3.6" fill="none" stroke="#f396c0" stroke-width="1.4000000000000001"/>
<circle cx="708.82" cy="195.10" r="4.9" fill="none" stroke="#f396c0" stroke-width="1.2"/>
<path d="M707.02,195.10h3.6" fill="none" stroke="#f396c0" stroke-width="1.4000000000000001"/>
<circle cx="737.71" cy="181.10" r="4.9" fill="none" stroke="#f396c0" stroke-width="1.2"/>
<path d="M735.91,181.10h3.6" fill="none" stroke="#f396c0" stroke-width="1.4000000000000001"/>
<circle cx="756.73" cy="172.40" r="4.9" fill="none" stroke="#f396c0" stroke-width="1.2"/>
<path d="M754.93,172.40h3.6" fill="none" stroke="#f396c0" stroke-width="1.4000000000000001"/>
<circle cx="776.90" cy="162.90" r="4.9" fill="none" stroke="#f396c0" stroke-width="1.2"/>
<path d="M775.10,162.90h3.6" fill="none" stroke="#f396c0" stroke-width="1.4000000000000001"/>
<circle cx="816.09" cy="145.30" r="4.9" fill="none" stroke="#f396c0" stroke-width="1.2"/>
<path d="M814.29,145.30h3.6" fill="none" stroke="#f396c0" stroke-width="1.4000000000000001"/>
<g clip-path="url(#cb)">
<path d="M516.5,215.10 L517.5,215.11 L518.5,215.12 L519.5,215.13 L520.5,215.14 L521.5,215.14 L522.5,215.15 L523.5,215.16 L524.5,215.17 L525.5,215.17 L526.5,215.18 L527.5,215.19 L528.5,215.19 L529.5,215.20 L530.5,215.21 L531.5,215.21 L532.5,215.22 L533.5,215.22 L534.5,215.23 L535.5,215.23 L536.5,215.24 L537.5,215.24 L538.5,215.25 L539.5,215.25 L540.5,215.25 L541.5,215.26 L542.5,215.26 L543.5,215.26 L544.5,215.27 L545.5,215.27 L546.5,215.27 L547.5,215.27 L548.5,215.28 L549.5,215.28 L550.5,215.28 L551.5,215.28 L552.5,215.29 L553.5,215.29 L554.5,215.29 L555.5,215.29 L556.5,215.29 L557.5,215.29 L558.5,215.29 L559.5,215.29 L560.5,215.30 L561.5,215.30 L562.5,215.30 L563.5,215.30 L564.5,215.30 L565.5,215.30 L566.5,215.30 L567.5,215.30 L568.5,215.30 L569.5,215.30 L570.5,215.30 L571.5,215.30 L572.5,215.30 L573.5,215.30 L574.5,215.30 L575.5,215.30 L576.5,215.30 L577.5,215.30 L578.5,215.30 L579.5,215.30 L580.5,215.30 L581.5,215.29 L582.5,215.29 L583.5,215.28 L584.5,215.27 L585.5,215.26 L586.5,215.25 L587.5,215.23 L588.5,215.22 L589.5,215.20 L590.5,215.19 L591.5,215.17 L592.5,215.15 L593.5,215.13 L594.5,215.11 L595.5,215.09 L596.5,215.06 L597.5,215.04 L598.5,215.02 L599.5,214.99 L600.5,214.97 L601.5,214.94 L602.5,214.92 L603.5,214.89 L604.5,214.87 L605.5,214.84 L606.5,214.82 L607.5,214.79 L608.5,214.77 L609.5,214.74 L610.5,214.70 L611.5,214.67 L612.5,214.64 L613.5,214.60 L614.5,214.56 L615.5,214.52 L616.5,214.48 L617.5,214.43 L618.5,214.39 L619.5,214.34 L620.5,214.30 L621.5,214.25 L622.5,214.20 L623.5,214.15 L624.5,214.10 L625.5,214.05 L626.5,213.99 L627.5,213.94 L628.5,213.89 L629.5,213.83 L630.5,213.77 L631.5,213.71 L632.5,213.65 L633.5,213.58 L634.5,213.52 L635.5,213.45 L636.5,213.38 L637.5,213.31 L638.5,213.24 L639.5,213.17 L640.5,213.09 L641.5,213.01 L642.5,212.94 L643.5,212.86 L644.5,212.78 L645.5,212.69 L646.5,212.61 L647.5,212.52 L648.5,212.43 L649.5,212.34 L650.5,212.25 L651.5,212.15 L652.5,212.05 L653.5,211.95 L654.5,211.84 L655.5,211.72 L656.5,211.60 L657.5,211.48 L658.5,211.35 L659.5,211.20 L660.5,211.04 L661.5,210.87 L662.5,210.70 L663.5,210.52 L664.5,210.34 L665.5,210.17 L666.5,210.00 L667.5,209.83 L668.5,209.66 L669.5,209.48 L670.5,209.28 L671.5,209.06 L672.5,208.83 L673.5,208.58 L674.5,208.33 L675.5,208.06 L676.5,207.80 L677.5,207.53 L678.5,207.26 L679.5,206.98 L680.5,206.71 L681.5,206.42 L682.5,206.13 L683.5,205.83 L684.5,205.52 L685.5,205.20 L686.5,204.87 L687.5,204.54 L688.5,204.19 L689.5,203.83 L690.5,203.45 L691.5,203.05 L692.5,202.63 L693.5,202.18 L694.5,201.70 L695.5,201.19 L696.5,200.67 L697.5,200.14 L698.5,199.60 L699.5,199.07 L700.5,198.54 L701.5,198.02 L702.5,197.50 L703.5,196.98 L704.5,196.46 L705.5,195.91 L706.5,195.35 L707.5,194.76 L708.5,194.13 L709.5,193.44 L710.5,192.68 L711.5,191.87 L712.5,191.05 L713.5,190.27 L714.5,189.55 L715.5,188.88 L716.5,188.24 L717.5,187.59 L718.5,186.92 L719.5,186.21 L720.5,185.45 L721.5,184.65 L722.5,183.84 L723.5,183.02 L724.5,182.20 L725.5,181.40 L726.5,180.61 L727.5,179.83 L728.5,179.06 L729.5,178.28 L730.5,177.49 L731.5,176.70 L732.5,175.90 L733.5,175.08 L734.5,174.26 L735.5,173.44 L736.5,172.63 L737.5,171.82 L738.5,171.03 L739.5,170.25 L740.5,169.49 L741.5,168.72 L742.5,167.94 L743.5,167.13 L744.5,166.29 L745.5,165.40 L746.5,164.49 L747.5,163.57 L748.5,162.65 L749.5,161.74 L750.5,160.86 L751.5,159.99 L752.5,159.13 L753.5,158.27 L754.5,157.42 L755.5,156.57 L756.5,155.73 L757.5,154.89 L758.5,154.05 L759.5,153.22 L760.5,152.39 L761.5,151.56 L762.5,150.73 L763.5,149.90 L764.5,149.08 L765.5,148.26 L766.5,147.45 L767.5,146.65 L768.5,145.84 L769.5,145.04 L770.5,144.23 L771.5,143.42 L772.5,142.61 L773.5,141.78 L774.5,140.95 L775.5,140.11 L776.5,139.26 L777.5,138.40 L778.5,137.54 L779.5,136.67 L780.5,135.81 L781.5,134.93 L782.5,134.06 L783.5,133.19 L784.5,132.31 L785.5,131.44 L786.5,130.56 L787.5,129.68 L788.5,128.80 L789.5,127.91 L790.5,127.02 L791.5,126.13 L792.5,125.23 L793.5,124.34 L794.5,123.44 L795.5,122.55 L796.5,121.66 L797.5,120.78 L798.5,119.90 L799.5,119.03 L800.5,118.16 L801.5,117.30 L802.5,116.45 L803.5,115.60 L804.5,114.75 L805.5,113.91 L806.5,113.07 L807.5,112.24 L808.5,111.41 L809.5,110.58 L810.5,109.75 L811.5,108.93 L812.5,108.11 L813.5,107.29 L814.5,106.47 L815.5,105.65 L816.5,104.84 L817.5,104.03 L818.5,103.21 L819.5,102.40 L820.5,101.59 L821.5,100.79 L822.5,99.98 L823.5,99.17 L824.5,98.37 L825.5,97.57 L826.5,96.78 L827.5,95.99 L828.5,95.20 L829.0,94.80" fill="none" stroke="#3018a0" stroke-width="1.08" stroke-dasharray="8 7.8"/>
<path d="M516.5,215.10 L517.5,215.11 L518.5,215.12 L519.5,215.13 L520.5,215.14 L521.5,215.14 L522.5,215.15 L523.5,215.16 L524.5,215.17 L525.5,215.17 L526.5,215.18 L527.5,215.19 L528.5,215.19 L529.5,215.20 L530.5,215.21 L531.5,215.21 L532.5,215.22 L533.5,215.22 L534.5,215.23 L535.5,215.23 L536.5,215.24 L537.5,215.24 L538.5,215.25 L539.5,215.25 L540.5,215.25 L541.5,215.26 L542.5,215.26 L543.5,215.26 L544.5,215.27 L545.5,215.27 L546.5,215.27 L547.5,215.27 L548.5,215.28 L549.5,215.28 L550.5,215.28 L551.5,215.28 L552.5,215.29 L553.5,215.29 L554.5,215.29 L555.5,215.29 L556.5,215.29 L557.5,215.29 L558.5,215.29 L559.5,215.29 L560.5,215.30 L561.5,215.30 L562.5,215.30 L563.5,215.30 L564.5,215.30 L565.5,215.30 L566.5,215.30 L567.5,215.30 L568.5,215.30 L569.5,215.30 L570.5,215.30 L571.5,215.30 L572.5,215.30 L573.5,215.30 L574.5,215.30 L575.5,215.30 L576.5,215.30 L577.5,215.30 L578.5,215.30 L579.5,215.30 L580.5,215.29 L581.5,215.28 L582.5,215.26 L583.5,215.23 L584.5,215.21 L585.5,215.17 L586.5,215.13 L587.5,215.09 L588.5,215.05 L589.5,215.00 L590.5,214.94 L591.5,214.89 L592.5,214.83 L593.5,214.76 L594.5,214.70 L595.5,214.63 L596.5,214.56 L597.5,214.48 L598.5,214.41 L599.5,214.33 L600.5,214.25 L601.5,214.17 L602.5,214.09 L603.5,214.01 L604.5,213.93 L605.5,213.84 L606.5,213.76 L607.5,213.67 L608.5,213.58 L609.5,213.47 L610.5,213.35 L611.5,213.22 L612.5,213.08 L613.5,212.93 L614.5,212.77 L615.5,212.61 L616.5,212.45 L617.5,212.28 L618.5,212.10 L619.5,211.93 L620.5,211.76 L621.5,211.59 L622.5,211.42 L623.5,211.25 L624.5,211.09 L625.5,210.93 L626.5,210.79 L627.5,210.65 L628.5,210.51 L629.5,210.39 L630.5,210.26 L631.5,210.14 L632.5,210.02 L633.5,209.89 L634.5,209.77 L635.5,209.63 L636.5,209.49 L637.5,209.34 L638.5,209.17 L639.5,208.99 L640.5,208.80 L641.5,208.57 L642.5,208.30 L643.5,208.02 L644.5,207.71 L645.5,207.41 L646.5,207.10 L647.5,206.79 L648.5,206.48 L649.5,206.16 L650.5,205.82 L651.5,205.45 L652.5,205.06 L653.5,204.64 L654.5,204.20 L655.5,203.74 L656.5,203.26 L657.5,202.76 L658.5,202.25 L659.5,201.74 L660.5,201.22 L661.5,200.70 L662.5,200.18 L663.5,199.64 L664.5,199.10 L665.5,198.54 L666.5,197.97 L667.5,197.40 L668.5,196.83 L669.5,196.26 L670.5,195.68 L671.5,195.11 L672.5,194.52 L673.5,193.93 L674.5,193.34 L675.5,192.73 L676.5,192.11 L677.5,191.48 L678.5,190.83 L679.5,190.18 L680.5,189.52 L681.5,188.85 L682.5,188.19 L683.5,187.53 L684.5,186.88 L685.5,186.22 L686.5,185.57 L687.5,184.91 L688.5,184.26 L689.5,183.61 L690.5,182.96 L691.5,182.33 L692.5,181.72 L693.5,181.11 L694.5,180.49 L695.5,179.84 L696.5,179.15 L697.5,178.44 L698.5,177.70 L699.5,176.94 L700.5,176.17 L701.5,175.38 L702.5,174.58 L703.5,173.77 L704.5,172.96 L705.5,172.15 L706.5,171.35 L707.5,170.55 L708.5,169.76 L709.5,168.98 L710.5,168.20 L711.5,167.42 L712.5,166.64 L713.5,165.86 L714.5,165.08 L715.5,164.30 L716.5,163.52 L717.5,162.74 L718.5,161.96 L719.5,161.17 L720.5,160.38 L721.5,159.60 L722.5,158.80 L723.5,158.01 L724.5,157.22 L725.5,156.43 L726.5,155.63 L727.5,154.82 L728.5,154.00 L729.5,153.17 L730.5,152.33 L731.5,151.48 L732.5,150.63 L733.5,149.77 L734.5,148.90 L735.5,148.03 L736.5,147.16 L737.5,146.29 L738.5,145.41 L739.5,144.51 L740.5,143.61 L741.5,142.71 L742.5,141.81 L743.5,140.92 L744.5,140.03 L745.5,139.17 L746.5,138.31 L747.5,137.47 L748.5,136.63 L749.5,135.80 L750.5,134.97 L751.5,134.14 L752.5,133.32 L753.5,132.49 L754.5,131.66 L755.5,130.83 L756.5,130.00 L757.5,129.16 L758.5,128.32 L759.5,127.48 L760.5,126.64 L761.5,125.80 L762.5,124.96 L763.5,124.12 L764.5,123.28 L765.5,122.44 L766.5,121.59 L767.5,120.75 L768.5,119.91 L769.5,119.07 L770.5,118.23 L771.5,117.38 L772.5,116.54 L773.5,115.70 L774.5,114.86 L775.5,114.02 L776.5,113.18 L777.5,112.34 L778.5,111.50 L779.5,110.66 L780.5,109.82 L781.5,108.98 L782.5,108.14 L783.5,107.30 L784.5,106.46 L785.5,105.62 L786.5,104.79 L787.5,103.96 L788.5,103.13 L789.5,102.31 L790.5,101.49 L791.5,100.68 L792.5,99.88 L793.5,99.09 L794.5,98.29 L795.5,97.50 L796.5,96.71 L797.5,95.92 L798.5,95.13 L799.5,94.33 L800.5,93.53 L801.5,92.72 L802.5,91.91 L803.5,91.09 L804.5,90.28 L805.5,89.46 L806.5,88.64 L807.5,87.82 L808.5,86.99 L809.5,86.17 L810.5,85.34 L811.5,84.50 L812.5,83.67 L813.5,82.82 L814.5,81.98 L815.5,81.13 L816.5,80.27 L817.5,79.41 L818.5,78.54 L819.5,77.67 L820.5,76.80 L821.5,75.92 L822.5,75.04 L823.5,74.15 L824.5,73.26 L825.5,72.36 L826.5,71.47 L827.5,70.56 L828.5,69.65 L829.0,69.20" fill="none" stroke="#3018a0" stroke-width="1.08"/>
</g>
<rect x="511.70" y="206.40" width="9.6" height="9.6" fill="none" stroke="#3018a0" stroke-width="1.35"/>
<path d="M514.70,211.20h3.6" fill="none" stroke="#3018a0" stroke-width="1.4000000000000001"/>
<rect x="573.82" y="206.40" width="9.6" height="9.6" fill="none" stroke="#3018a0" stroke-width="1.35"/>
<path d="M576.82,211.20h3.6" fill="none" stroke="#3018a0" stroke-width="1.4000000000000001"/>
<rect x="602.71" y="205.10" width="9.6" height="9.6" fill="none" stroke="#3018a0" stroke-width="1.35"/>
<path d="M605.71,209.90h3.6" fill="none" stroke="#3018a0" stroke-width="1.4000000000000001"/>
<rect x="621.73" y="203.50" width="9.6" height="9.6" fill="none" stroke="#3018a0" stroke-width="1.35"/>
<path d="M624.73,208.30h3.6" fill="none" stroke="#3018a0" stroke-width="1.4000000000000001"/>
<rect x="641.90" y="199.50" width="9.6" height="9.6" fill="none" stroke="#3018a0" stroke-width="1.35"/>
<path d="M644.90,204.30h3.6" fill="none" stroke="#3018a0" stroke-width="1.4000000000000001"/>
<rect x="704.02" y="161.30" width="9.6" height="9.6" fill="none" stroke="#3018a0" stroke-width="1.35"/>
<path d="M707.02,166.10h3.6" fill="none" stroke="#3018a0" stroke-width="1.4000000000000001"/>
<rect x="732.91" y="137.00" width="9.6" height="9.6" fill="none" stroke="#3018a0" stroke-width="1.35"/>
<path d="M735.91,141.80h3.6" fill="none" stroke="#3018a0" stroke-width="1.4000000000000001"/>
<rect x="751.93" y="120.90" width="9.6" height="9.6" fill="none" stroke="#3018a0" stroke-width="1.35"/>
<path d="M754.93,125.70h3.6" fill="none" stroke="#3018a0" stroke-width="1.4000000000000001"/>
<rect x="772.10" y="102.70" width="9.6" height="9.6" fill="none" stroke="#3018a0" stroke-width="1.35"/>
<path d="M775.10,107.50h3.6" fill="none" stroke="#3018a0" stroke-width="1.4000000000000001"/>
<rect x="811.29" y="70.30" width="9.6" height="9.6" fill="none" stroke="#3018a0" stroke-width="1.35"/>
<path d="M814.29,75.10h3.6" fill="none" stroke="#3018a0" stroke-width="1.4000000000000001"/>
<path d="M656.0,32.1H695.2" stroke="#f396c0" stroke-width="1.1" stroke-dasharray="8 7.8" fill="none"/>
<path d="M656.0,52.5H695.2" stroke="#f396c0" stroke-width="1.15" fill="none"/>
<circle cx="675.70" cy="73.20" r="4.9" fill="none" stroke="#f396c0" stroke-width="1.2"/>
<path d="M675.70,61.60V84.80M673.90,61.60h3.6M673.90,84.80h3.6" fill="none" stroke="#f396c0" stroke-width="1.1"/>
<path d="M656.0,93.9H695.2" stroke="#3018a0" stroke-width="1.1" stroke-dasharray="8 7.8" fill="none"/>
<path d="M656.0,114.5H695.2" stroke="#3018a0" stroke-width="1.15" fill="none"/>
<rect x="670.90" y="130.20" width="9.6" height="9.6" fill="none" stroke="#3018a0" stroke-width="1.35"/>
<path d="M675.70,123.40V146.60M673.90,123.40h3.6M673.90,146.60h3.6" fill="none" stroke="#3018a0" stroke-width="1.1"/>
<g transform="translate(449.10,112.30)" fill="none" stroke="#111" stroke-linecap="round" stroke-linejoin="round"><path d="M0.1,5.5 C0.4,3.0 1.4,0.8 3.3,0.4" stroke-width="0.95"/><path d="M3.6,0.7 C4.6,1.0 4.7,2.2 4.3,4.2 L2.1,13.8" stroke-width="2.05"/><path d="M4.4,5.0 C5.6,2.6 8.4,0.4 11.2,0.35" stroke-width="0.95"/><path d="M10.9,0.5 C13.6,0.4 15.0,2.0 14.5,4.8 L9.8,20.8" stroke-width="2.05"/></g>
<path d="M471.50,103.40L471.50,112.20M467.23,105.53L475.77,110.07M475.77,105.53L467.23,110.07" stroke="#111" stroke-width="1.45" stroke-linecap="round" fill="none"/>
<g transform="translate(650.00,276.60)" fill="none" stroke="#111" stroke-linecap="round" stroke-linejoin="round"><path d="M0.1,6.3 C0.7,3.8 2.4,1.7 4.8,1.1" stroke-width="1.15"/><path d="M3.9,1.5 C6.9,0.3 9.3,2.4 10.7,6.0 C11.5,8.0 11.9,10.0 12.0,11.6" stroke-width="1.75"/><path d="M16.7,0.7 L12.2,11.4" stroke-width="0.95"/><path d="M12.3,10.8 L9.3,21.2" stroke-width="1.45"/></g>
<circle cx="658.50" cy="271.30" r="1.9" fill="#111"/>
<path d="M674.30,267.90L674.30,276.50M670.12,269.98L678.48,274.42M678.48,269.98L670.12,274.42" stroke="#111" stroke-width="1.45" stroke-linecap="round" fill="none"/>
<rect x="82.5" y="368.5" width="303.5" height="221.39999999999998" fill="none" stroke="#1a1a1a" stroke-width="1"/>
<path d="M82.50,589.9v-2.6M82.50,368.5v2.6M120.60,589.9v-1.5M120.60,368.5v1.5M142.88,589.9v-1.5M142.88,368.5v1.5M158.69,589.9v-1.5M158.69,368.5v1.5M170.95,589.9v-1.5M170.95,368.5v1.5M180.98,589.9v-1.5M180.98,368.5v1.5M189.45,589.9v-1.5M189.45,368.5v1.5M196.79,589.9v-1.5M196.79,368.5v1.5M203.26,589.9v-1.5M203.26,368.5v1.5M209.05,589.9v-2.6M209.05,368.5v2.6M247.15,589.9v-1.5M247.15,368.5v1.5M269.43,589.9v-1.5M269.43,368.5v1.5M285.24,589.9v-1.5M285.24,368.5v1.5M297.50,589.9v-1.5M297.50,368.5v1.5M307.53,589.9v-1.5M307.53,368.5v1.5M316.00,589.9v-1.5M316.00,368.5v1.5M323.34,589.9v-1.5M323.34,368.5v1.5M329.81,589.9v-1.5M329.81,368.5v1.5M335.60,589.9v-2.6M335.60,368.5v2.6M373.70,589.9v-1.5M373.70,368.5v1.5" stroke="#1a1a1a" stroke-width="0.8" fill="none"/>
<path d="M82.5,368.50h2.8M386.0,368.50h-2.8M82.5,442.30h2.8M386.0,442.30h-2.8M82.5,516.00h2.8M386.0,516.00h-2.8M82.5,589.70h2.8M386.0,589.70h-2.8" stroke="#1a1a1a" stroke-width="0.8" fill="none"/>
<clipPath id="cc"><rect x="82.5" y="368.5" width="303.5" height="221.99999999999997"/></clipPath><g clip-path="url(#cc)">
<path d="M82.5,589.40 L83.5,589.40 L84.5,589.40 L85.5,589.40 L86.5,589.40 L87.5,589.39 L88.5,589.39 L89.5,589.39 L90.5,589.38 L91.5,589.38 L92.5,589.37 L93.5,589.37 L94.5,589.36 L95.5,589.36 L96.5,589.35 L97.5,589.34 L98.5,589.34 L99.5,589.33 L100.5,589.32 L101.5,589.31 L102.5,589.30 L103.5,589.29 L104.5,589.28 L105.5,589.27 L106.5,589.26 L107.5,589.25 L108.5,589.24 L109.5,589.22 L110.5,589.21 L111.5,589.20 L112.5,589.18 L113.5,589.17 L114.5,589.16 L115.5,589.14 L116.5,589.13 L117.5,589.11 L118.5,589.09 L119.5,589.08 L120.5,589.06 L121.5,589.04 L122.5,589.03 L123.5,589.01 L124.5,588.99 L125.5,588.97 L126.5,588.95 L127.5,588.93 L128.5,588.91 L129.5,588.89 L130.5,588.87 L131.5,588.85 L132.5,588.83 L133.5,588.81 L134.5,588.79 L135.5,588.77 L136.5,588.74 L137.5,588.72 L138.5,588.70 L139.5,588.67 L140.5,588.65 L141.5,588.63 L142.5,588.60 L143.5,588.58 L144.5,588.55 L145.5,588.51 L146.5,588.48 L147.5,588.44 L148.5,588.39 L149.5,588.35 L150.5,588.29 L151.5,588.24 L152.5,588.18 L153.5,588.12 L154.5,588.06 L155.5,587.99 L156.5,587.92 L157.5,587.85 L158.5,587.77 L159.5,587.69 L160.5,587.61 L161.5,587.52 L162.5,587.44 L163.5,587.35 L164.5,587.25 L165.5,587.16 L166.5,587.06 L167.5,586.95 L168.5,586.85 L169.5,586.74 L170.5,586.63 L171.5,586.52 L172.5,586.39 L173.5,586.24 L174.5,586.08 L175.5,585.91 L176.5,585.72 L177.5,585.53 L178.5,585.32 L179.5,585.10 L180.5,584.86 L181.5,584.62 L182.5,584.38 L183.5,584.12 L184.5,583.85 L185.5,583.58 L186.5,583.30 L187.5,583.02 L188.5,582.73 L189.5,582.44 L190.5,582.13 L191.5,581.80 L192.5,581.44 L193.5,581.07 L194.5,580.67 L195.5,580.26 L196.5,579.84 L197.5,579.40 L198.5,578.95 L199.5,578.49 L200.5,578.02 L201.5,577.54 L202.5,577.06 L203.5,576.57 L204.5,576.09 L205.5,575.60 L206.5,575.11 L207.5,574.62 L208.5,574.14 L209.5,573.67 L210.5,573.21 L211.5,572.74 L212.5,572.25 L213.5,571.71 L214.5,571.10 L215.5,570.40 L216.5,569.61 L217.5,568.73 L218.5,567.79 L219.5,566.79 L220.5,565.76 L221.5,564.69 L222.5,563.62 L223.5,562.54 L224.5,561.47 L225.5,560.33 L226.5,559.14 L227.5,557.93 L228.5,556.72 L229.5,555.56 L230.5,554.46 L231.5,553.40 L232.5,552.37 L233.5,551.36 L234.5,550.37 L235.5,549.38 L236.5,548.38 L237.5,547.38 L238.5,546.36 L239.5,545.31 L240.5,544.23 L241.5,543.16 L242.5,542.07 L243.5,540.97 L244.5,539.86 L245.5,538.74 L246.5,537.59 L247.5,536.44 L248.5,535.26 L249.5,534.06 L250.5,532.81 L251.5,531.52 L252.5,530.19 L253.5,528.84 L254.5,527.49 L255.5,526.14 L256.5,524.81 L257.5,523.52 L258.5,522.28 L259.5,521.09 L260.5,519.91 L261.5,518.74 L262.5,517.59 L263.5,516.46 L264.5,515.36 L265.5,514.28 L266.5,513.24 L267.5,512.25 L268.5,511.29 L269.5,510.37 L270.5,509.45 L271.5,508.54 L272.5,507.66 L273.5,506.80 L274.5,505.99 L275.5,505.23 L276.5,504.53 L277.5,503.90 L278.5,503.34 L279.5,502.80 L280.5,502.26 L281.5,501.75 L282.5,501.26 L283.5,500.82 L284.5,500.42 L285.5,500.08 L286.5,499.82 L287.5,499.64 L288.5,499.53 L289.5,499.43 L290.5,499.33 L291.5,499.26 L292.5,499.19 L293.5,499.14 L294.5,499.11 L295.5,499.10 L296.5,499.13 L297.5,499.22 L298.5,499.36 L299.5,499.54 L300.5,499.76 L301.5,500.01 L302.5,500.28 L303.5,500.56 L304.5,500.86 L305.5,501.15 L306.5,501.43 L307.5,501.71 L308.5,502.01 L309.5,502.34 L310.5,502.69 L311.5,503.06 L312.5,503.43 L313.5,503.82 L314.5,504.20 L315.5,504.57 L316.5,504.93 L317.5,505.28 L318.5,505.63 L319.5,505.97 L320.5,506.32 L321.5,506.66 L322.5,507.01 L323.5,507.34 L324.5,507.68 L325.5,508.01 L326.5,508.33 L327.5,508.65 L328.5,508.97 L329.5,509.29 L330.5,509.60 L331.5,509.92 L332.5,510.23 L333.5,510.54 L334.5,510.85 L335.5,511.15 L336.5,511.45 L337.5,511.75 L338.5,512.05 L339.5,512.34 L340.5,512.64 L341.5,512.92 L342.5,513.21 L343.5,513.49 L344.5,513.77 L345.5,514.05 L346.5,514.32 L347.5,514.59 L348.5,514.87 L349.5,515.14 L350.5,515.41 L351.5,515.68 L352.5,515.95 L353.5,516.21 L354.5,516.48 L355.5,516.73 L356.5,516.99 L357.5,517.24 L358.5,517.48 L359.5,517.72 L360.5,517.96 L361.5,518.18 L362.5,518.40 L363.5,518.62 L364.5,518.82 L365.5,519.02 L366.5,519.21 L367.5,519.40 L368.5,519.59 L369.5,519.78 L370.5,519.96 L371.5,520.14 L372.5,520.32 L373.5,520.49 L374.5,520.66 L375.5,520.82 L376.5,520.99 L377.5,521.14 L378.5,521.30 L379.5,521.45 L380.5,521.59 L381.5,521.73 L382.5,521.87 L383.5,522.00 L384.5,522.12 L385.5,522.24 L386.0,522.30" fill="none" stroke="#f396c0" stroke-width="1.08" stroke-dasharray="8 7.8"/>
<path d="M82.5,589.40 L83.5,589.40 L84.5,589.40 L85.5,589.40 L86.5,589.40 L87.5,589.39 L88.5,589.39 L89.5,589.39 L90.5,589.38 L91.5,589.38 L92.5,589.37 L93.5,589.37 L94.5,589.36 L95.5,589.36 L96.5,589.35 L97.5,589.34 L98.5,589.33 L99.5,589.33 L100.5,589.32 L101.5,589.31 L102.5,589.30 L103.5,589.29 L104.5,589.28 L105.5,589.27 L106.5,589.26 L107.5,589.25 L108.5,589.23 L109.5,589.22 L110.5,589.21 L111.5,589.19 L112.5,589.18 L113.5,589.17 L114.5,589.15 L115.5,589.14 L116.5,589.12 L117.5,589.11 L118.5,589.09 L119.5,589.07 L120.5,589.06 L121.5,589.04 L122.5,589.02 L123.5,589.00 L124.5,588.99 L125.5,588.97 L126.5,588.95 L127.5,588.93 L128.5,588.91 L129.5,588.89 L130.5,588.87 L131.5,588.85 L132.5,588.83 L133.5,588.81 L134.5,588.78 L135.5,588.76 L136.5,588.74 L137.5,588.72 L138.5,588.70 L139.5,588.67 L140.5,588.65 L141.5,588.63 L142.5,588.60 L143.5,588.58 L144.5,588.55 L145.5,588.52 L146.5,588.48 L147.5,588.44 L148.5,588.40 L149.5,588.36 L150.5,588.31 L151.5,588.26 L152.5,588.21 L153.5,588.15 L154.5,588.10 L155.5,588.04 L156.5,587.97 L157.5,587.91 L158.5,587.84 L159.5,587.77 L160.5,587.69 L161.5,587.62 L162.5,587.54 L163.5,587.46 L164.5,587.37 L165.5,587.29 L166.5,587.20 L167.5,587.11 L168.5,587.02 L169.5,586.92 L170.5,586.83 L171.5,586.73 L172.5,586.62 L173.5,586.50 L174.5,586.37 L175.5,586.24 L176.5,586.09 L177.5,585.93 L178.5,585.77 L179.5,585.60 L180.5,585.42 L181.5,585.23 L182.5,585.03 L183.5,584.83 L184.5,584.61 L185.5,584.39 L186.5,584.17 L187.5,583.94 L188.5,583.70 L189.5,583.45 L190.5,583.18 L191.5,582.89 L192.5,582.57 L193.5,582.22 L194.5,581.86 L195.5,581.47 L196.5,581.07 L197.5,580.65 L198.5,580.22 L199.5,579.78 L200.5,579.33 L201.5,578.87 L202.5,578.41 L203.5,577.94 L204.5,577.48 L205.5,577.01 L206.5,576.55 L207.5,576.09 L208.5,575.63 L209.5,575.18 L210.5,574.71 L211.5,574.23 L212.5,573.74 L213.5,573.26 L214.5,572.80 L215.5,572.35 L216.5,571.90 L217.5,571.45 L218.5,571.00 L219.5,570.57 L220.5,570.14 L221.5,569.72 L222.5,569.32 L223.5,568.93 L224.5,568.55 L225.5,568.18 L226.5,567.81 L227.5,567.45 L228.5,567.09 L229.5,566.74 L230.5,566.40 L231.5,566.07 L232.5,565.76 L233.5,565.47 L234.5,565.19 L235.5,564.94 L236.5,564.71 L237.5,564.48 L238.5,564.26 L239.5,564.04 L240.5,563.83 L241.5,563.63 L242.5,563.44 L243.5,563.27 L244.5,563.11 L245.5,562.97 L246.5,562.85 L247.5,562.75 L248.5,562.68 L249.5,562.61 L250.5,562.55 L251.5,562.49 L252.5,562.43 L253.5,562.38 L254.5,562.34 L255.5,562.29 L256.5,562.26 L257.5,562.23 L258.5,562.21 L259.5,562.20 L260.5,562.20 L261.5,562.22 L262.5,562.26 L263.5,562.31 L264.5,562.38 L265.5,562.46 L266.5,562.55 L267.5,562.64 L268.5,562.74 L269.5,562.84 L270.5,562.94 L271.5,563.03 L272.5,563.12 L273.5,563.20 L274.5,563.29 L275.5,563.38 L276.5,563.48 L277.5,563.58 L278.5,563.67 L279.5,563.77 L280.5,563.88 L281.5,563.98 L282.5,564.08 L283.5,564.19 L284.5,564.30 L285.5,564.40 L286.5,564.51 L287.5,564.61 L288.5,564.72 L289.5,564.82 L290.5,564.93 L291.5,565.03 L292.5,565.13 L293.5,565.23 L294.5,565.32 L295.5,565.42 L296.5,565.51 L297.5,565.60 L298.5,565.69 L299.5,565.78 L300.5,565.87 L301.5,565.96 L302.5,566.06 L303.5,566.15 L304.5,566.24 L305.5,566.33 L306.5,566.41 L307.5,566.50 L308.5,566.59 L309.5,566.68 L310.5,566.76 L311.5,566.84 L312.5,566.92 L313.5,567.00 L314.5,567.08 L315.5,567.16 L316.5,567.23 L317.5,567.30 L318.5,567.37 L319.5,567.44 L320.5,567.50 L321.5,567.56 L322.5,567.62 L323.5,567.68 L324.5,567.74 L325.5,567.80 L326.5,567.86 L327.5,567.91 L328.5,567.97 L329.5,568.02 L330.5,568.07 L331.5,568.12 L332.5,568.17 L333.5,568.22 L334.5,568.27 L335.5,568.32 L336.5,568.37 L337.5,568.41 L338.5,568.46 L339.5,568.50 L340.5,568.54 L341.5,568.58 L342.5,568.62 L343.5,568.66 L344.5,568.70 L345.5,568.73 L346.5,568.77 L347.5,568.80 L348.5,568.83 L349.5,568.87 L350.5,568.90 L351.5,568.93 L352.5,568.96 L353.5,568.99 L354.5,569.01 L355.5,569.04 L356.5,569.07 L357.5,569.10 L358.5,569.12 L359.5,569.15 L360.5,569.18 L361.5,569.20 L362.5,569.23 L363.5,569.26 L364.5,569.28 L365.5,569.31 L366.5,569.34 L367.5,569.37 L368.5,569.39 L369.5,569.42 L370.5,569.45 L371.5,569.48 L372.5,569.51 L373.5,569.54 L374.5,569.57 L375.5,569.60 L376.5,569.63 L377.5,569.65 L378.5,569.68 L379.5,569.71 L380.5,569.74 L381.5,569.77 L382.5,569.80 L383.5,569.83 L384.5,569.86 L385.5,569.89 L386.0,569.90" fill="none" stroke="#f396c0" stroke-width="1.08"/>
</g>
<circle cx="142.88" cy="578.60" r="4.9" fill="none" stroke="#f396c0" stroke-width="1.2"/>
<path d="M142.88,575.60V581.60M141.28,575.60h3.2M141.28,581.60h3.2" fill="none" stroke="#f396c0" stroke-width="1.0"/>
<circle cx="170.95" cy="579.00" r="4.9" fill="none" stroke="#f396c0" stroke-width="1.2"/>
<path d="M170.95,576.00V582.00M169.35,576.00h3.2M169.35,582.00h3.2" fill="none" stroke="#f396c0" stroke-width="1.0"/>
<circle cx="189.45" cy="584.50" r="4.9" fill="none" stroke="#f396c0" stroke-width="1.2"/>
<path d="M189.45,581.50V587.50M187.85,581.50h3.2M187.85,587.50h3.2" fill="none" stroke="#f396c0" stroke-width="1.0"/>
<circle cx="209.05" cy="568.80" r="4.9" fill="none" stroke="#f396c0" stroke-width="1.2"/>
<path d="M209.05,565.80V571.80M207.45,565.80h3.2M207.45,571.80h3.2" fill="none" stroke="#f396c0" stroke-width="1.0"/>
<circle cx="269.43" cy="551.80" r="4.9" fill="none" stroke="#f396c0" stroke-width="1.2"/>
<path d="M269.43,548.80V554.80M267.83,548.80h3.2M267.83,554.80h3.2" fill="none" stroke="#f396c0" stroke-width="1.0"/>
<circle cx="297.50" cy="558.80" r="4.9" fill="none" stroke="#f396c0" stroke-width="1.2"/>
<path d="M297.50,555.80V561.80M295.90,555.80h3.2M295.90,561.80h3.2" fill="none" stroke="#f396c0" stroke-width="1.0"/>
<circle cx="316.00" cy="559.30" r="4.9" fill="none" stroke="#f396c0" stroke-width="1.2"/>
<path d="M316.00,556.30V562.30M314.40,556.30h3.2M314.40,562.30h3.2" fill="none" stroke="#f396c0" stroke-width="1.0"/>
<circle cx="335.60" cy="560.20" r="4.9" fill="none" stroke="#f396c0" stroke-width="1.2"/>
<path d="M335.60,557.20V563.20M334.00,557.20h3.2M334.00,563.20h3.2" fill="none" stroke="#f396c0" stroke-width="1.0"/>
<g clip-path="url(#cc)">
<path d="M82.5,589.40 L83.5,589.40 L84.5,589.40 L85.5,589.40 L86.5,589.40 L87.5,589.39 L88.5,589.39 L89.5,589.39 L90.5,589.38 L91.5,589.38 L92.5,589.37 L93.5,589.37 L94.5,589.36 L95.5,589.36 L96.5,589.35 L97.5,589.34 L98.5,589.33 L99.5,589.33 L100.5,589.32 L101.5,589.31 L102.5,589.30 L103.5,589.29 L104.5,589.28 L105.5,589.27 L106.5,589.26 L107.5,589.25 L108.5,589.23 L109.5,589.22 L110.5,589.21 L111.5,589.19 L112.5,589.18 L113.5,589.17 L114.5,589.15 L115.5,589.14 L116.5,589.12 L117.5,589.11 L118.5,589.09 L119.5,589.07 L120.5,589.06 L121.5,589.04 L122.5,589.02 L123.5,589.00 L124.5,588.99 L125.5,588.97 L126.5,588.95 L127.5,588.93 L128.5,588.91 L129.5,588.89 L130.5,588.87 L131.5,588.85 L132.5,588.83 L133.5,588.81 L134.5,588.78 L135.5,588.76 L136.5,588.74 L137.5,588.72 L138.5,588.70 L139.5,588.67 L140.5,588.65 L141.5,588.63 L142.5,588.60 L143.5,588.58 L144.5,588.55 L145.5,588.52 L146.5,588.48 L147.5,588.44 L148.5,588.40 L149.5,588.36 L150.5,588.31 L151.5,588.26 L152.5,588.21 L153.5,588.15 L154.5,588.10 L155.5,588.04 L156.5,587.97 L157.5,587.91 L158.5,587.84 L159.5,587.77 L160.5,587.69 L161.5,587.62 L162.5,587.54 L163.5,587.46 L164.5,587.37 L165.5,587.29 L166.5,587.20 L167.5,587.11 L168.5,587.02 L169.5,586.92 L170.5,586.83 L171.5,586.73 L172.5,586.62 L173.5,586.50 L174.5,586.37 L175.5,586.23 L176.5,586.09 L177.5,585.93 L178.5,585.76 L179.5,585.59 L180.5,585.41 L181.5,585.22 L182.5,585.02 L183.5,584.82 L184.5,584.61 L185.5,584.39 L186.5,584.16 L187.5,583.93 L188.5,583.69 L189.5,583.45 L190.5,583.18 L191.5,582.89 L192.5,582.57 L193.5,582.23 L194.5,581.87 L195.5,581.49 L196.5,581.09 L197.5,580.69 L198.5,580.26 L199.5,579.83 L200.5,579.40 L201.5,578.95 L202.5,578.51 L203.5,578.06 L204.5,577.62 L205.5,577.18 L206.5,576.75 L207.5,576.33 L208.5,575.92 L209.5,575.52 L210.5,575.12 L211.5,574.72 L212.5,574.32 L213.5,573.91 L214.5,573.50 L215.5,573.08 L216.5,572.66 L217.5,572.24 L218.5,571.81 L219.5,571.38 L220.5,570.95 L221.5,570.52 L222.5,570.09 L223.5,569.66 L224.5,569.23 L225.5,568.79 L226.5,568.35 L227.5,567.90 L228.5,567.45 L229.5,567.00 L230.5,566.56 L231.5,566.12 L232.5,565.70 L233.5,565.29 L234.5,564.89 L235.5,564.51 L236.5,564.16 L237.5,563.80 L238.5,563.43 L239.5,563.07 L240.5,562.70 L241.5,562.35 L242.5,562.02 L243.5,561.70 L244.5,561.42 L245.5,561.17 L246.5,560.96 L247.5,560.79 L248.5,560.67 L249.5,560.56 L250.5,560.47 L251.5,560.38 L252.5,560.30 L253.5,560.25 L254.5,560.21 L255.5,560.20 L256.5,560.23 L257.5,560.31 L258.5,560.44 L259.5,560.60 L260.5,560.79 L261.5,561.01 L262.5,561.24 L263.5,561.49 L264.5,561.75 L265.5,562.01 L266.5,562.34 L267.5,562.74 L268.5,563.19 L269.5,563.70 L270.5,564.24 L271.5,564.81 L272.5,565.40 L273.5,565.99 L274.5,566.58 L275.5,567.15 L276.5,567.69 L277.5,568.20 L278.5,568.71 L279.5,569.22 L280.5,569.73 L281.5,570.25 L282.5,570.76 L283.5,571.27 L284.5,571.77 L285.5,572.26 L286.5,572.75 L287.5,573.23 L288.5,573.69 L289.5,574.13 L290.5,574.57 L291.5,575.01 L292.5,575.43 L293.5,575.85 L294.5,576.27 L295.5,576.67 L296.5,577.07 L297.5,577.46 L298.5,577.84 L299.5,578.20 L300.5,578.56 L301.5,578.90 L302.5,579.24 L303.5,579.56 L304.5,579.89 L305.5,580.20 L306.5,580.50 L307.5,580.80 L308.5,581.09 L309.5,581.38 L310.5,581.66 L311.5,581.93 L312.5,582.19 L313.5,582.45 L314.5,582.71 L315.5,582.96 L316.5,583.21 L317.5,583.45 L318.5,583.69 L319.5,583.92 L320.5,584.15 L321.5,584.36 L322.5,584.57 L323.5,584.77 L324.5,584.96 L325.5,585.13 L326.5,585.30 L327.5,585.47 L328.5,585.64 L329.5,585.80 L330.5,585.96 L331.5,586.12 L332.5,586.27 L333.5,586.42 L334.5,586.56 L335.5,586.70 L336.5,586.84 L337.5,586.97 L338.5,587.09 L339.5,587.21 L340.5,587.32 L341.5,587.42 L342.5,587.52 L343.5,587.61 L344.5,587.69 L345.5,587.77 L346.5,587.85 L347.5,587.92 L348.5,587.99 L349.5,588.06 L350.5,588.13 L351.5,588.20 L352.5,588.26 L353.5,588.33 L354.5,588.39 L355.5,588.44 L356.5,588.50 L357.5,588.55 L358.5,588.61 L359.5,588.66 L360.5,588.70 L361.5,588.75 L362.5,588.79 L363.5,588.83 L364.5,588.87 L365.5,588.90 L366.5,588.94 L367.5,588.97 L368.5,588.99 L369.5,589.02 L370.5,589.05 L371.5,589.07 L372.5,589.09 L373.5,589.12 L374.5,589.14 L375.5,589.16 L376.5,589.18 L377.5,589.20 L378.5,589.22 L379.5,589.24 L380.5,589.25 L381.5,589.27 L382.5,589.28 L383.5,589.29 L384.5,589.29 L385.5,589.30 L386.0,589.30" fill="none" stroke="#3018a0" stroke-width="1.08" stroke-dasharray="8 7.8"/>
<path d="M82.5,589.40 L83.5,589.40 L84.5,589.40 L85.5,589.40 L86.5,589.40 L87.5,589.40 L88.5,589.39 L89.5,589.39 L90.5,589.39 L91.5,589.38 L92.5,589.38 L93.5,589.38 L94.5,589.37 L95.5,589.37 L96.5,589.36 L97.5,589.36 L98.5,589.35 L99.5,589.35 L100.5,589.34 L101.5,589.33 L102.5,589.33 L103.5,589.32 L104.5,589.31 L105.5,589.30 L106.5,589.30 L107.5,589.29 L108.5,589.28 L109.5,589.27 L110.5,589.26 L111.5,589.25 L112.5,589.24 L113.5,589.23 L114.5,589.22 L115.5,589.21 L116.5,589.20 L117.5,589.18 L118.5,589.17 L119.5,589.16 L120.5,589.15 L121.5,589.13 L122.5,589.12 L123.5,589.11 L124.5,589.09 L125.5,589.08 L126.5,589.07 L127.5,589.05 L128.5,589.04 L129.5,589.02 L130.5,589.01 L131.5,588.99 L132.5,588.97 L133.5,588.96 L134.5,588.94 L135.5,588.93 L136.5,588.91 L137.5,588.89 L138.5,588.87 L139.5,588.86 L140.5,588.84 L141.5,588.82 L142.5,588.80 L143.5,588.78 L144.5,588.76 L145.5,588.73 L146.5,588.70 L147.5,588.67 L148.5,588.63 L149.5,588.59 L150.5,588.55 L151.5,588.51 L152.5,588.46 L153.5,588.41 L154.5,588.35 L155.5,588.30 L156.5,588.24 L157.5,588.18 L158.5,588.12 L159.5,588.05 L160.5,587.99 L161.5,587.92 L162.5,587.85 L163.5,587.77 L164.5,587.70 L165.5,587.62 L166.5,587.55 L167.5,587.47 L168.5,587.39 L169.5,587.31 L170.5,587.22 L171.5,587.14 L172.5,587.05 L173.5,586.94 L174.5,586.83 L175.5,586.72 L176.5,586.59 L177.5,586.46 L178.5,586.32 L179.5,586.18 L180.5,586.03 L181.5,585.88 L182.5,585.73 L183.5,585.57 L184.5,585.40 L185.5,585.24 L186.5,585.07 L187.5,584.90 L188.5,584.74 L189.5,584.57 L190.5,584.38 L191.5,584.18 L192.5,583.96 L193.5,583.73 L194.5,583.49 L195.5,583.24 L196.5,582.98 L197.5,582.72 L198.5,582.46 L199.5,582.21 L200.5,581.96 L201.5,581.71 L202.5,581.48 L203.5,581.26 L204.5,581.05 L205.5,580.86 L206.5,580.69 L207.5,580.55 L208.5,580.43 L209.5,580.33 L210.5,580.25 L211.5,580.17 L212.5,580.11 L213.5,580.05 L214.5,580.00 L215.5,579.96 L216.5,579.91 L217.5,579.87 L218.5,579.83 L219.5,579.79 L220.5,579.76 L221.5,579.73 L222.5,579.71 L223.5,579.70 L224.5,579.70 L225.5,579.72 L226.5,579.76 L227.5,579.82 L228.5,579.90 L229.5,579.99 L230.5,580.08 L231.5,580.19 L232.5,580.30 L233.5,580.41 L234.5,580.53 L235.5,580.64 L236.5,580.74 L237.5,580.85 L238.5,580.97 L239.5,581.10 L240.5,581.23 L241.5,581.37 L242.5,581.51 L243.5,581.66 L244.5,581.81 L245.5,581.96 L246.5,582.12 L247.5,582.29 L248.5,582.45 L249.5,582.63 L250.5,582.82 L251.5,583.02 L252.5,583.22 L253.5,583.43 L254.5,583.65 L255.5,583.86 L256.5,584.08 L257.5,584.28 L258.5,584.48 L259.5,584.67 L260.5,584.85 L261.5,585.03 L262.5,585.20 L263.5,585.37 L264.5,585.54 L265.5,585.70 L266.5,585.86 L267.5,586.02 L268.5,586.17 L269.5,586.32 L270.5,586.46 L271.5,586.60 L272.5,586.73 L273.5,586.85 L274.5,586.98 L275.5,587.10 L276.5,587.22 L277.5,587.33 L278.5,587.44 L279.5,587.55 L280.5,587.65 L281.5,587.75 L282.5,587.84 L283.5,587.93 L284.5,588.02 L285.5,588.10 L286.5,588.18 L287.5,588.25 L288.5,588.33 L289.5,588.40 L290.5,588.47 L291.5,588.53 L292.5,588.59 L293.5,588.65 L294.5,588.71 L295.5,588.76 L296.5,588.80 L297.5,588.85 L298.5,588.89 L299.5,588.93 L300.5,588.98 L301.5,589.02 L302.5,589.05 L303.5,589.09 L304.5,589.12 L305.5,589.14 L306.5,589.17 L307.5,589.19 L308.5,589.20 L309.5,589.21 L310.5,589.22 L311.5,589.24 L312.5,589.25 L313.5,589.26 L314.5,589.27 L315.5,589.28 L316.5,589.29 L317.5,589.29 L318.5,589.30 L319.5,589.31 L320.5,589.32 L321.5,589.33 L322.5,589.34 L323.5,589.34 L324.5,589.35 L325.5,589.35 L326.5,589.36 L327.5,589.37 L328.5,589.37 L329.5,589.38 L330.5,589.38 L331.5,589.38 L332.5,589.39 L333.5,589.39 L334.5,589.39 L335.5,589.40 L336.5,589.40 L337.5,589.40 L338.5,589.40 L339.5,589.40 L340.5,589.40 L341.5,589.40 L342.5,589.40 L343.5,589.40 L344.5,589.40 L345.5,589.40 L346.5,589.40 L347.5,589.40 L348.5,589.40 L349.5,589.40 L350.5,589.40 L351.5,589.40 L352.5,589.40 L353.5,589.40 L354.5,589.40 L355.5,589.40 L356.5,589.40 L357.5,589.40 L358.5,589.40 L359.5,589.40 L360.5,589.40 L361.5,589.40 L362.5,589.40 L363.5,589.40 L364.5,589.40 L365.5,589.40 L366.5,589.40 L367.5,589.40 L368.5,589.40 L369.5,589.40 L370.5,589.40 L371.5,589.40 L372.5,589.40 L373.5,589.40 L374.5,589.40 L375.5,589.40 L376.5,589.40 L377.5,589.40 L378.5,589.40 L379.5,589.40 L380.5,589.40 L381.5,589.40 L382.5,589.40 L383.5,589.40 L384.5,589.40 L385.5,589.40 L386.0,589.40" fill="none" stroke="#3018a0" stroke-width="1.08"/>
</g>
<rect x="77.70" y="582.80" width="9.6" height="9.6" fill="none" stroke="#3018a0" stroke-width="1.35"/>
<rect x="138.08" y="582.80" width="9.6" height="9.6" fill="none" stroke="#3018a0" stroke-width="1.35"/>
<path d="M142.88,584.60V590.60M141.28,584.60h3.2M141.28,590.60h3.2" fill="none" stroke="#3018a0" stroke-width="1.0"/>
<rect x="166.15" y="580.70" width="9.6" height="9.6" fill="none" stroke="#3018a0" stroke-width="1.35"/>
<path d="M170.95,582.50V588.50M169.35,582.50h3.2M169.35,588.50h3.2" fill="none" stroke="#3018a0" stroke-width="1.0"/>
<rect x="184.65" y="584.40" width="9.6" height="9.6" fill="none" stroke="#3018a0" stroke-width="1.35"/>
<path d="M189.45,586.20V592.20M187.85,586.20h3.2M187.85,592.20h3.2" fill="none" stroke="#3018a0" stroke-width="1.0"/>
<rect x="204.25" y="574.20" width="9.6" height="9.6" fill="none" stroke="#3018a0" stroke-width="1.35"/>
<path d="M209.05,576.00V582.00M207.45,576.00h3.2M207.45,582.00h3.2" fill="none" stroke="#3018a0" stroke-width="1.0"/>
<rect x="264.63" y="577.60" width="9.6" height="9.6" fill="none" stroke="#3018a0" stroke-width="1.35"/>
<path d="M269.43,579.40V585.40M267.83,579.40h3.2M267.83,585.40h3.2" fill="none" stroke="#3018a0" stroke-width="1.0"/>
<rect x="292.70" y="583.40" width="9.6" height="9.6" fill="none" stroke="#3018a0" stroke-width="1.35"/>
<path d="M297.50,585.20V591.20M295.90,585.20h3.2M295.90,591.20h3.2" fill="none" stroke="#3018a0" stroke-width="1.0"/>
<path d="M217.0,390.4H256.0" stroke="#f396c0" stroke-width="1.1" stroke-dasharray="8 7.8" fill="none"/>
<path d="M217.0,410.5H256.0" stroke="#f396c0" stroke-width="1.15" fill="none"/>
<circle cx="236.50" cy="431.40" r="4.9" fill="none" stroke="#f396c0" stroke-width="1.2"/>
<path d="M236.50,419.80V443.00M234.70,419.80h3.6M234.70,443.00h3.6" fill="none" stroke="#f396c0" stroke-width="1.1"/>
<path d="M217.0,452.3H256.0" stroke="#3018a0" stroke-width="1.1" stroke-dasharray="8 7.8" fill="none"/>
<path d="M217.0,472.5H256.0" stroke="#3018a0" stroke-width="1.15" fill="none"/>
<rect x="231.70" y="488.70" width="9.6" height="9.6" fill="none" stroke="#3018a0" stroke-width="1.35"/>
<path d="M236.50,481.90V505.10M234.70,481.90h3.6M234.70,505.10h3.6" fill="none" stroke="#3018a0" stroke-width="1.1"/>
<g transform="translate(217.80,634.40)" fill="none" stroke="#111" stroke-linecap="round" stroke-linejoin="round"><path d="M0.1,6.3 C0.7,3.8 2.4,1.7 4.8,1.1" stroke-width="1.15"/><path d="M3.9,1.5 C6.9,0.3 9.3,2.4 10.7,6.0 C11.5,8.0 11.9,10.0 12.0,11.6" stroke-width="1.75"/><path d="M16.7,0.7 L12.2,11.4" stroke-width="0.95"/><path d="M12.3,10.8 L9.3,21.2" stroke-width="1.45"/></g>
<circle cx="226.30" cy="629.10" r="1.9" fill="#111"/>
<path d="M242.10,625.70L242.10,634.30M237.92,627.78L246.28,632.22M246.28,627.78L237.92,632.22" stroke="#111" stroke-width="1.45" stroke-linecap="round" fill="none"/>
<rect x="528.3" y="368.6" width="285.9000000000001" height="221.19999999999993" fill="none" stroke="#1a1a1a" stroke-width="1"/>
<path d="M528.30,589.8v-2.6M528.30,368.6v2.6M564.20,589.8v-1.5M564.20,368.6v1.5M585.20,589.8v-1.5M585.20,368.6v1.5M600.10,589.8v-1.5M600.10,368.6v1.5M611.65,589.8v-1.5M611.65,368.6v1.5M621.09,589.8v-1.5M621.09,368.6v1.5M629.08,589.8v-1.5M629.08,368.6v1.5M635.99,589.8v-1.5M635.99,368.6v1.5M642.09,589.8v-1.5M642.09,368.6v1.5M647.55,589.8v-2.6M647.55,368.6v2.6M683.45,589.8v-1.5M683.45,368.6v1.5M704.45,589.8v-1.5M704.45,368.6v1.5M719.35,589.8v-1.5M719.35,368.6v1.5M730.90,589.8v-1.5M730.90,368.6v1.5M740.34,589.8v-1.5M740.34,368.6v1.5M748.33,589.8v-1.5M748.33,368.6v1.5M755.24,589.8v-1.5M755.24,368.6v1.5M761.34,589.8v-1.5M761.34,368.6v1.5M766.80,589.8v-2.6M766.80,368.6v2.6M802.70,589.8v-1.5M802.70,368.6v1.5" stroke="#1a1a1a" stroke-width="0.8" fill="none"/>
<path d="M528.3,368.60h2.8M814.2,368.60h-2.8M528.3,411.15h2.8M814.2,411.15h-2.8M528.3,453.70h2.8M814.2,453.70h-2.8M528.3,496.25h2.8M814.2,496.25h-2.8M528.3,538.80h2.8M814.2,538.80h-2.8M528.3,581.35h2.8M814.2,581.35h-2.8" stroke="#1a1a1a" stroke-width="0.8" fill="none"/>
<clipPath id="cd"><rect x="528.3" y="368.6" width="285.9000000000001" height="221.19999999999993"/></clipPath><g clip-path="url(#cd)">
<path d="M528.2,538.90 L529.2,538.90 L530.2,538.90 L531.2,538.90 L532.2,538.90 L533.2,538.90 L534.2,538.90 L535.2,538.90 L536.2,538.90 L537.2,538.90 L538.2,538.90 L539.2,538.90 L540.2,538.90 L541.2,538.90 L542.2,538.91 L543.2,538.91 L544.2,538.91 L545.2,538.91 L546.2,538.91 L547.2,538.91 L548.2,538.91 L549.2,538.91 L550.2,538.91 L551.2,538.91 L552.2,538.92 L553.2,538.92 L554.2,538.92 L555.2,538.92 L556.2,538.92 L557.2,538.92 L558.2,538.93 L559.2,538.93 L560.2,538.93 L561.2,538.93 L562.2,538.93 L563.2,538.93 L564.2,538.94 L565.2,538.94 L566.2,538.94 L567.2,538.94 L568.2,538.95 L569.2,538.95 L570.2,538.95 L571.2,538.95 L572.2,538.96 L573.2,538.96 L574.2,538.96 L575.2,538.97 L576.2,538.97 L577.2,538.97 L578.2,538.97 L579.2,538.98 L580.2,538.98 L581.2,538.98 L582.2,538.99 L583.2,538.99 L584.2,539.00 L585.2,539.00 L586.2,539.01 L587.2,539.02 L588.2,539.04 L589.2,539.06 L590.2,539.09 L591.2,539.12 L592.2,539.16 L593.2,539.20 L594.2,539.25 L595.2,539.30 L596.2,539.36 L597.2,539.41 L598.2,539.48 L599.2,539.54 L600.2,539.61 L601.2,539.68 L602.2,539.75 L603.2,539.83 L604.2,539.90 L605.2,539.98 L606.2,540.06 L607.2,540.14 L608.2,540.22 L609.2,540.30 L610.2,540.38 L611.2,540.47 L612.2,540.55 L613.2,540.64 L614.2,540.74 L615.2,540.85 L616.2,540.96 L617.2,541.08 L618.2,541.20 L619.2,541.33 L620.2,541.47 L621.2,541.61 L622.2,541.75 L623.2,541.90 L624.2,542.05 L625.2,542.21 L626.2,542.37 L627.2,542.53 L628.2,542.70 L629.2,542.87 L630.2,543.04 L631.2,543.21 L632.2,543.39 L633.2,543.58 L634.2,543.77 L635.2,543.97 L636.2,544.18 L637.2,544.39 L638.2,544.61 L639.2,544.83 L640.2,545.07 L641.2,545.31 L642.2,545.55 L643.2,545.81 L644.2,546.07 L645.2,546.34 L646.2,546.62 L647.2,546.91 L648.2,547.21 L649.2,547.53 L650.2,547.87 L651.2,548.23 L652.2,548.61 L653.2,549.01 L654.2,549.41 L655.2,549.84 L656.2,550.27 L657.2,550.71 L658.2,551.17 L659.2,551.63 L660.2,552.10 L661.2,552.58 L662.2,553.06 L663.2,553.55 L664.2,554.05 L665.2,554.56 L666.2,555.10 L667.2,555.65 L668.2,556.21 L669.2,556.79 L670.2,557.38 L671.2,557.98 L672.2,558.58 L673.2,559.20 L674.2,559.81 L675.2,560.43 L676.2,561.06 L677.2,561.68 L678.2,562.30 L679.2,562.93 L680.2,563.58 L681.2,564.25 L682.2,564.93 L683.2,565.62 L684.2,566.32 L685.2,567.01 L686.2,567.71 L687.2,568.39 L688.2,569.07 L689.2,569.74 L690.2,570.38 L691.2,571.01 L692.2,571.61 L693.2,572.19 L694.2,572.76 L695.2,573.33 L696.2,573.89 L697.2,574.44 L698.2,574.98 L699.2,575.50 L700.2,576.01 L701.2,576.50 L702.2,576.96 L703.2,577.40 L704.2,577.81 L705.2,578.19 L706.2,578.57 L707.2,578.95 L708.2,579.32 L709.2,579.68 L710.2,580.02 L711.2,580.35 L712.2,580.65 L713.2,580.92 L714.2,581.17 L715.2,581.37 L716.2,581.53 L717.2,581.66 L718.2,581.78 L719.2,581.89 L720.2,581.99 L721.2,582.09 L722.2,582.18 L723.2,582.27 L724.2,582.34 L725.2,582.40 L726.2,582.45 L727.2,582.48 L728.2,582.50 L729.2,582.50 L730.2,582.47 L731.2,582.42 L732.2,582.35 L733.2,582.25 L734.2,582.14 L735.2,582.02 L736.2,581.88 L737.2,581.73 L738.2,581.58 L739.2,581.42 L740.2,581.26 L741.2,581.11 L742.2,580.96 L743.2,580.81 L744.2,580.67 L745.2,580.53 L746.2,580.37 L747.2,580.21 L748.2,580.05 L749.2,579.88 L750.2,579.71 L751.2,579.53 L752.2,579.36 L753.2,579.18 L754.2,579.00 L755.2,578.83 L756.2,578.65 L757.2,578.48 L758.2,578.31 L759.2,578.14 L760.2,577.98 L761.2,577.83 L762.2,577.67 L763.2,577.51 L764.2,577.34 L765.2,577.18 L766.2,577.02 L767.2,576.86 L768.2,576.71 L769.2,576.55 L770.2,576.39 L771.2,576.24 L772.2,576.09 L773.2,575.94 L774.2,575.80 L775.2,575.65 L776.2,575.52 L777.2,575.38 L778.2,575.25 L779.2,575.12 L780.2,575.00 L781.2,574.88 L782.2,574.77 L783.2,574.66 L784.2,574.54 L785.2,574.44 L786.2,574.33 L787.2,574.23 L788.2,574.12 L789.2,574.02 L790.2,573.92 L791.2,573.82 L792.2,573.72 L793.2,573.63 L794.2,573.53 L795.2,573.44 L796.2,573.34 L797.2,573.24 L798.2,573.15 L799.2,573.05 L800.2,572.96 L801.2,572.86 L802.2,572.77 L803.2,572.67 L804.2,572.58 L805.2,572.49 L806.2,572.40 L807.2,572.31 L808.2,572.22 L809.2,572.13 L810.2,572.04 L811.2,571.96 L812.2,571.87 L813.2,571.78 L814.2,571.70" fill="none" stroke="#f396c0" stroke-width="1.08" stroke-dasharray="8 7.8"/>
<path d="M528.2,538.90 L529.2,538.90 L530.2,538.90 L531.2,538.90 L532.2,538.89 L533.2,538.89 L534.2,538.89 L535.2,538.88 L536.2,538.88 L537.2,538.87 L538.2,538.86 L539.2,538.86 L540.2,538.85 L541.2,538.84 L542.2,538.83 L543.2,538.82 L544.2,538.81 L545.2,538.80 L546.2,538.79 L547.2,538.78 L548.2,538.76 L549.2,538.75 L550.2,538.74 L551.2,538.72 L552.2,538.71 L553.2,538.69 L554.2,538.67 L555.2,538.66 L556.2,538.64 L557.2,538.62 L558.2,538.61 L559.2,538.59 L560.2,538.57 L561.2,538.55 L562.2,538.53 L563.2,538.51 L564.2,538.49 L565.2,538.47 L566.2,538.45 L567.2,538.43 L568.2,538.41 L569.2,538.39 L570.2,538.36 L571.2,538.34 L572.2,538.32 L573.2,538.30 L574.2,538.27 L575.2,538.25 L576.2,538.23 L577.2,538.20 L578.2,538.18 L579.2,538.15 L580.2,538.13 L581.2,538.10 L582.2,538.08 L583.2,538.05 L584.2,538.03 L585.2,538.00 L586.2,537.98 L587.2,537.95 L588.2,537.92 L589.2,537.89 L590.2,537.85 L591.2,537.82 L592.2,537.78 L593.2,537.74 L594.2,537.70 L595.2,537.65 L596.2,537.61 L597.2,537.56 L598.2,537.51 L599.2,537.46 L600.2,537.41 L601.2,537.36 L602.2,537.30 L603.2,537.24 L604.2,537.19 L605.2,537.13 L606.2,537.06 L607.2,537.00 L608.2,536.93 L609.2,536.87 L610.2,536.80 L611.2,536.73 L612.2,536.66 L613.2,536.58 L614.2,536.50 L615.2,536.41 L616.2,536.32 L617.2,536.23 L618.2,536.12 L619.2,536.02 L620.2,535.91 L621.2,535.79 L622.2,535.66 L623.2,535.54 L624.2,535.40 L625.2,535.26 L626.2,535.11 L627.2,534.96 L628.2,534.80 L629.2,534.63 L630.2,534.46 L631.2,534.25 L632.2,534.03 L633.2,533.79 L634.2,533.53 L635.2,533.25 L636.2,532.95 L637.2,532.64 L638.2,532.32 L639.2,531.99 L640.2,531.64 L641.2,531.29 L642.2,530.94 L643.2,530.57 L644.2,530.21 L645.2,529.84 L646.2,529.47 L647.2,529.11 L648.2,528.74 L649.2,528.34 L650.2,527.92 L651.2,527.47 L652.2,527.01 L653.2,526.54 L654.2,526.06 L655.2,525.58 L656.2,525.10 L657.2,524.63 L658.2,524.17 L659.2,523.72 L660.2,523.29 L661.2,522.89 L662.2,522.51 L663.2,522.17 L664.2,521.84 L665.2,521.50 L666.2,521.17 L667.2,520.85 L668.2,520.53 L669.2,520.22 L670.2,519.92 L671.2,519.63 L672.2,519.36 L673.2,519.10 L674.2,518.87 L675.2,518.66 L676.2,518.48 L677.2,518.33 L678.2,518.20 L679.2,518.09 L680.2,517.99 L681.2,517.88 L682.2,517.79 L683.2,517.69 L684.2,517.60 L685.2,517.52 L686.2,517.45 L687.2,517.38 L688.2,517.32 L689.2,517.28 L690.2,517.24 L691.2,517.21 L692.2,517.20 L693.2,517.20 L694.2,517.23 L695.2,517.28 L696.2,517.34 L697.2,517.43 L698.2,517.52 L699.2,517.62 L700.2,517.73 L701.2,517.84 L702.2,517.95 L703.2,518.06 L704.2,518.16 L705.2,518.24 L706.2,518.33 L707.2,518.42 L708.2,518.51 L709.2,518.61 L710.2,518.70 L711.2,518.80 L712.2,518.89 L713.2,518.99 L714.2,519.09 L715.2,519.19 L716.2,519.28 L717.2,519.38 L718.2,519.48 L719.2,519.57 L720.2,519.67 L721.2,519.76 L722.2,519.86 L723.2,519.95 L724.2,520.04 L725.2,520.12 L726.2,520.21 L727.2,520.29 L728.2,520.37 L729.2,520.45 L730.2,520.53 L731.2,520.60 L732.2,520.67 L733.2,520.74 L734.2,520.81 L735.2,520.87 L736.2,520.94 L737.2,521.00 L738.2,521.06 L739.2,521.12 L740.2,521.18 L741.2,521.24 L742.2,521.30 L743.2,521.35 L744.2,521.41 L745.2,521.46 L746.2,521.51 L747.2,521.56 L748.2,521.60 L749.2,521.65 L750.2,521.69 L751.2,521.73 L752.2,521.77 L753.2,521.81 L754.2,521.85 L755.2,521.89 L756.2,521.92 L757.2,521.96 L758.2,521.99 L759.2,522.03 L760.2,522.06 L761.2,522.10 L762.2,522.13 L763.2,522.17 L764.2,522.21 L765.2,522.24 L766.2,522.28 L767.2,522.32 L768.2,522.37 L769.2,522.41 L770.2,522.45 L771.2,522.49 L772.2,522.54 L773.2,522.58 L774.2,522.63 L775.2,522.67 L776.2,522.72 L777.2,522.77 L778.2,522.81 L779.2,522.86 L780.2,522.90 L781.2,522.95 L782.2,523.00 L783.2,523.04 L784.2,523.09 L785.2,523.13 L786.2,523.18 L787.2,523.22 L788.2,523.27 L789.2,523.31 L790.2,523.35 L791.2,523.39 L792.2,523.43 L793.2,523.47 L794.2,523.51 L795.2,523.55 L796.2,523.59 L797.2,523.62 L798.2,523.66 L799.2,523.70 L800.2,523.73 L801.2,523.77 L802.2,523.81 L803.2,523.84 L804.2,523.88 L805.2,523.91 L806.2,523.94 L807.2,523.98 L808.2,524.01 L809.2,524.04 L810.2,524.07 L811.2,524.11 L812.2,524.14 L813.2,524.17 L814.2,524.20" fill="none" stroke="#f396c0" stroke-width="1.08"/>
</g>
<circle cx="528.30" cy="538.90" r="4.9" fill="none" stroke="#f396c0" stroke-width="1.2"/>
<path d="M528.30,537.10V540.70M526.70,537.10h3.2M526.70,540.70h3.2" fill="none" stroke="#f396c0" stroke-width="0.95"/>
<circle cx="585.20" cy="537.50" r="4.9" fill="none" stroke="#f396c0" stroke-width="1.2"/>
<path d="M585.20,535.70V539.30M583.60,535.70h3.2M583.60,539.30h3.2" fill="none" stroke="#f396c0" stroke-width="0.95"/>
<circle cx="611.65" cy="532.20" r="4.9" fill="none" stroke="#f396c0" stroke-width="1.2"/>
<path d="M611.65,530.40V534.00M610.05,530.40h3.2M610.05,534.00h3.2" fill="none" stroke="#f396c0" stroke-width="0.95"/>
<circle cx="629.08" cy="526.20" r="4.9" fill="none" stroke="#f396c0" stroke-width="1.2"/>
<path d="M629.08,524.40V528.00M627.48,524.40h3.2M627.48,528.00h3.2" fill="none" stroke="#f396c0" stroke-width="0.95"/>
<circle cx="647.55" cy="529.10" r="4.9" fill="none" stroke="#f396c0" stroke-width="1.2"/>
<path d="M647.55,527.30V530.90M645.95,527.30h3.2M645.95,530.90h3.2" fill="none" stroke="#f396c0" stroke-width="0.95"/>
<circle cx="704.45" cy="518.90" r="4.9" fill="none" stroke="#f396c0" stroke-width="1.2"/>
<path d="M704.45,517.10V520.70M702.85,517.10h3.2M702.85,520.70h3.2" fill="none" stroke="#f396c0" stroke-width="0.95"/>
<circle cx="730.90" cy="520.80" r="4.9" fill="none" stroke="#f396c0" stroke-width="1.2"/>
<path d="M730.90,519.00V522.60M729.30,519.00h3.2M729.30,522.60h3.2" fill="none" stroke="#f396c0" stroke-width="0.95"/>
<circle cx="748.33" cy="521.90" r="4.9" fill="none" stroke="#f396c0" stroke-width="1.2"/>
<path d="M748.33,520.10V523.70M746.73,520.10h3.2M746.73,523.70h3.2" fill="none" stroke="#f396c0" stroke-width="0.95"/>
<circle cx="766.80" cy="522.50" r="4.9" fill="none" stroke="#f396c0" stroke-width="1.2"/>
<path d="M766.80,520.70V524.30M765.20,520.70h3.2M765.20,524.30h3.2" fill="none" stroke="#f396c0" stroke-width="0.95"/>
<g clip-path="url(#cd)">
<path d="M528.2,538.90 L529.2,538.90 L530.2,538.90 L531.2,538.90 L532.2,538.90 L533.2,538.90 L534.2,538.90 L535.2,538.90 L536.2,538.90 L537.2,538.90 L538.2,538.90 L539.2,538.90 L540.2,538.90 L541.2,538.90 L542.2,538.91 L543.2,538.91 L544.2,538.91 L545.2,538.91 L546.2,538.91 L547.2,538.91 L548.2,538.91 L549.2,538.91 L550.2,538.91 L551.2,538.91 L552.2,538.92 L553.2,538.92 L554.2,538.92 L555.2,538.92 L556.2,538.92 L557.2,538.92 L558.2,538.93 L559.2,538.93 L560.2,538.93 L561.2,538.93 L562.2,538.93 L563.2,538.94 L564.2,538.94 L565.2,538.94 L566.2,538.94 L567.2,538.94 L568.2,538.95 L569.2,538.95 L570.2,538.95 L571.2,538.95 L572.2,538.96 L573.2,538.96 L574.2,538.96 L575.2,538.97 L576.2,538.97 L577.2,538.97 L578.2,538.98 L579.2,538.98 L580.2,538.98 L581.2,538.99 L582.2,538.99 L583.2,538.99 L584.2,539.00 L585.2,539.00 L586.2,539.01 L587.2,539.02 L588.2,539.03 L589.2,539.05 L590.2,539.08 L591.2,539.10 L592.2,539.14 L593.2,539.17 L594.2,539.21 L595.2,539.25 L596.2,539.30 L597.2,539.35 L598.2,539.40 L599.2,539.45 L600.2,539.50 L601.2,539.56 L602.2,539.62 L603.2,539.68 L604.2,539.74 L605.2,539.80 L606.2,539.86 L607.2,539.92 L608.2,539.99 L609.2,540.05 L610.2,540.11 L611.2,540.18 L612.2,540.24 L613.2,540.30 L614.2,540.37 L615.2,540.45 L616.2,540.52 L617.2,540.60 L618.2,540.69 L619.2,540.77 L620.2,540.86 L621.2,540.96 L622.2,541.05 L623.2,541.15 L624.2,541.25 L625.2,541.35 L626.2,541.45 L627.2,541.56 L628.2,541.67 L629.2,541.78 L630.2,541.89 L631.2,542.01 L632.2,542.13 L633.2,542.26 L634.2,542.39 L635.2,542.52 L636.2,542.66 L637.2,542.80 L638.2,542.95 L639.2,543.09 L640.2,543.24 L641.2,543.40 L642.2,543.55 L643.2,543.71 L644.2,543.87 L645.2,544.03 L646.2,544.19 L647.2,544.35 L648.2,544.52 L649.2,544.69 L650.2,544.86 L651.2,545.04 L652.2,545.23 L653.2,545.42 L654.2,545.61 L655.2,545.81 L656.2,546.00 L657.2,546.20 L658.2,546.39 L659.2,546.58 L660.2,546.77 L661.2,546.96 L662.2,547.14 L663.2,547.32 L664.2,547.50 L665.2,547.69 L666.2,547.89 L667.2,548.09 L668.2,548.29 L669.2,548.49 L670.2,548.69 L671.2,548.88 L672.2,549.06 L673.2,549.23 L674.2,549.39 L675.2,549.52 L676.2,549.64 L677.2,549.73 L678.2,549.80 L679.2,549.85 L680.2,549.90 L681.2,549.95 L682.2,550.00 L683.2,550.04 L684.2,550.08 L685.2,550.12 L686.2,550.14 L687.2,550.17 L688.2,550.19 L689.2,550.20 L690.2,550.20 L691.2,550.19 L692.2,550.15 L693.2,550.10 L694.2,550.02 L695.2,549.93 L696.2,549.82 L697.2,549.70 L698.2,549.57 L699.2,549.43 L700.2,549.28 L701.2,549.13 L702.2,548.98 L703.2,548.83 L704.2,548.67 L705.2,548.52 L706.2,548.36 L707.2,548.17 L708.2,547.97 L709.2,547.75 L710.2,547.53 L711.2,547.29 L712.2,547.05 L713.2,546.81 L714.2,546.56 L715.2,546.32 L716.2,546.08 L717.2,545.84 L718.2,545.62 L719.2,545.40 L720.2,545.19 L721.2,544.98 L722.2,544.77 L723.2,544.55 L724.2,544.34 L725.2,544.14 L726.2,543.93 L727.2,543.73 L728.2,543.54 L729.2,543.35 L730.2,543.17 L731.2,543.00 L732.2,542.83 L733.2,542.66 L734.2,542.49 L735.2,542.33 L736.2,542.16 L737.2,542.00 L738.2,541.84 L739.2,541.68 L740.2,541.53 L741.2,541.38 L742.2,541.25 L743.2,541.11 L744.2,540.99 L745.2,540.88 L746.2,540.77 L747.2,540.68 L748.2,540.59 L749.2,540.51 L750.2,540.44 L751.2,540.37 L752.2,540.30 L753.2,540.23 L754.2,540.16 L755.2,540.10 L756.2,540.04 L757.2,539.98 L758.2,539.93 L759.2,539.88 L760.2,539.83 L761.2,539.78 L762.2,539.74 L763.2,539.70 L764.2,539.67 L765.2,539.64 L766.2,539.61 L767.2,539.59 L768.2,539.56 L769.2,539.54 L770.2,539.52 L771.2,539.50 L772.2,539.48 L773.2,539.46 L774.2,539.44 L775.2,539.42 L776.2,539.41 L777.2,539.39 L778.2,539.37 L779.2,539.36 L780.2,539.34 L781.2,539.33 L782.2,539.32 L783.2,539.30 L784.2,539.29 L785.2,539.28 L786.2,539.27 L787.2,539.26 L788.2,539.25 L789.2,539.24 L790.2,539.23 L791.2,539.22 L792.2,539.21 L793.2,539.21 L794.2,539.20 L795.2,539.19 L796.2,539.18 L797.2,539.18 L798.2,539.17 L799.2,539.16 L800.2,539.16 L801.2,539.15 L802.2,539.14 L803.2,539.14 L804.2,539.13 L805.2,539.13 L806.2,539.12 L807.2,539.12 L808.2,539.11 L809.2,539.11 L810.2,539.11 L811.2,539.10 L812.2,539.10 L813.2,539.10 L814.2,539.10" fill="none" stroke="#3018a0" stroke-width="1.08" stroke-dasharray="8 7.8"/>
<path d="M528.2,538.90 L529.2,538.90 L530.2,538.90 L531.2,538.90 L532.2,538.89 L533.2,538.89 L534.2,538.89 L535.2,538.88 L536.2,538.88 L537.2,538.88 L538.2,538.87 L539.2,538.86 L540.2,538.86 L541.2,538.85 L542.2,538.84 L543.2,538.83 L544.2,538.82 L545.2,538.81 L546.2,538.80 L547.2,538.79 L548.2,538.78 L549.2,538.77 L550.2,538.76 L551.2,538.75 L552.2,538.73 L553.2,538.72 L554.2,538.71 L555.2,538.69 L556.2,538.68 L557.2,538.66 L558.2,538.65 L559.2,538.63 L560.2,538.62 L561.2,538.60 L562.2,538.58 L563.2,538.57 L564.2,538.55 L565.2,538.53 L566.2,538.51 L567.2,538.49 L568.2,538.47 L569.2,538.45 L570.2,538.43 L571.2,538.41 L572.2,538.39 L573.2,538.37 L574.2,538.35 L575.2,538.33 L576.2,538.31 L577.2,538.29 L578.2,538.26 L579.2,538.24 L580.2,538.22 L581.2,538.20 L582.2,538.17 L583.2,538.15 L584.2,538.13 L585.2,538.10 L586.2,538.08 L587.2,538.05 L588.2,538.02 L589.2,537.99 L590.2,537.95 L591.2,537.91 L592.2,537.87 L593.2,537.83 L594.2,537.78 L595.2,537.73 L596.2,537.68 L597.2,537.63 L598.2,537.58 L599.2,537.52 L600.2,537.46 L601.2,537.41 L602.2,537.34 L603.2,537.28 L604.2,537.22 L605.2,537.15 L606.2,537.08 L607.2,537.02 L608.2,536.95 L609.2,536.87 L610.2,536.80 L611.2,536.73 L612.2,536.65 L613.2,536.57 L614.2,536.49 L615.2,536.40 L616.2,536.30 L617.2,536.20 L618.2,536.09 L619.2,535.99 L620.2,535.87 L621.2,535.76 L622.2,535.64 L623.2,535.51 L624.2,535.39 L625.2,535.26 L626.2,535.13 L627.2,535.00 L628.2,534.86 L629.2,534.73 L630.2,534.59 L631.2,534.43 L632.2,534.27 L633.2,534.10 L634.2,533.91 L635.2,533.73 L636.2,533.53 L637.2,533.34 L638.2,533.14 L639.2,532.95 L640.2,532.76 L641.2,532.57 L642.2,532.39 L643.2,532.21 L644.2,532.05 L645.2,531.90 L646.2,531.76 L647.2,531.63 L648.2,531.52 L649.2,531.41 L650.2,531.29 L651.2,531.18 L652.2,531.06 L653.2,530.95 L654.2,530.84 L655.2,530.74 L656.2,530.65 L657.2,530.56 L658.2,530.49 L659.2,530.42 L660.2,530.37 L661.2,530.33 L662.2,530.31 L663.2,530.30 L664.2,530.31 L665.2,530.34 L666.2,530.39 L667.2,530.46 L668.2,530.54 L669.2,530.63 L670.2,530.73 L671.2,530.84 L672.2,530.95 L673.2,531.07 L674.2,531.20 L675.2,531.33 L676.2,531.45 L677.2,531.58 L678.2,531.70 L679.2,531.83 L680.2,531.97 L681.2,532.12 L682.2,532.28 L683.2,532.44 L684.2,532.62 L685.2,532.79 L686.2,532.98 L687.2,533.16 L688.2,533.34 L689.2,533.52 L690.2,533.69 L691.2,533.86 L692.2,534.02 L693.2,534.18 L694.2,534.33 L695.2,534.49 L696.2,534.65 L697.2,534.80 L698.2,534.95 L699.2,535.10 L700.2,535.25 L701.2,535.39 L702.2,535.52 L703.2,535.64 L704.2,535.75 L705.2,535.85 L706.2,535.95 L707.2,536.04 L708.2,536.13 L709.2,536.22 L710.2,536.30 L711.2,536.38 L712.2,536.46 L713.2,536.54 L714.2,536.61 L715.2,536.69 L716.2,536.76 L717.2,536.83 L718.2,536.90 L719.2,536.96 L720.2,537.03 L721.2,537.09 L722.2,537.15 L723.2,537.22 L724.2,537.28 L725.2,537.34 L726.2,537.40 L727.2,537.46 L728.2,537.52 L729.2,537.58 L730.2,537.64 L731.2,537.70 L732.2,537.76 L733.2,537.82 L734.2,537.88 L735.2,537.94 L736.2,538.00 L737.2,538.06 L738.2,538.12 L739.2,538.18 L740.2,538.23 L741.2,538.29 L742.2,538.34 L743.2,538.39 L744.2,538.44 L745.2,538.48 L746.2,538.53 L747.2,538.57 L748.2,538.60 L749.2,538.64 L750.2,538.68 L751.2,538.71 L752.2,538.75 L753.2,538.79 L754.2,538.83 L755.2,538.86 L756.2,538.90 L757.2,538.93 L758.2,538.96 L759.2,538.99 L760.2,539.01 L761.2,539.04 L762.2,539.06 L763.2,539.07 L764.2,539.09 L765.2,539.10 L766.2,539.10 L767.2,539.10 L768.2,539.10 L769.2,539.10 L770.2,539.10 L771.2,539.10 L772.2,539.10 L773.2,539.10 L774.2,539.10 L775.2,539.10 L776.2,539.10 L777.2,539.10 L778.2,539.10 L779.2,539.10 L780.2,539.10 L781.2,539.10 L782.2,539.10 L783.2,539.10 L784.2,539.10 L785.2,539.10 L786.2,539.10 L787.2,539.10 L788.2,539.10 L789.2,539.10 L790.2,539.10 L791.2,539.10 L792.2,539.10 L793.2,539.10 L794.2,539.10 L795.2,539.10 L796.2,539.10 L797.2,539.10 L798.2,539.10 L799.2,539.10 L800.2,539.10 L801.2,539.10 L802.2,539.10 L803.2,539.10 L804.2,539.10 L805.2,539.10 L806.2,539.10 L807.2,539.10 L808.2,539.10 L809.2,539.10 L810.2,539.10 L811.2,539.10 L812.2,539.10 L813.2,539.10 L814.2,539.10" fill="none" stroke="#3018a0" stroke-width="1.08"/>
</g>
<rect x="523.50" y="534.10" width="9.6" height="9.6" fill="none" stroke="#3018a0" stroke-width="1.35"/>
<path d="M528.30,536.80V541.00M526.70,536.80h3.2M526.70,541.00h3.2" fill="none" stroke="#3018a0" stroke-width="0.95"/>
<rect x="580.40" y="533.20" width="9.6" height="9.6" fill="none" stroke="#3018a0" stroke-width="1.35"/>
<path d="M585.20,535.90V540.10M583.60,535.90h3.2M583.60,540.10h3.2" fill="none" stroke="#3018a0" stroke-width="0.95"/>
<rect x="606.85" y="531.50" width="9.6" height="9.6" fill="none" stroke="#3018a0" stroke-width="1.35"/>
<path d="M611.65,534.20V538.40M610.05,534.20h3.2M610.05,538.40h3.2" fill="none" stroke="#3018a0" stroke-width="0.95"/>
<rect x="624.28" y="526.70" width="9.6" height="9.6" fill="none" stroke="#3018a0" stroke-width="1.35"/>
<path d="M629.08,529.40V533.60M627.48,529.40h3.2M627.48,533.60h3.2" fill="none" stroke="#3018a0" stroke-width="0.95"/>
<rect x="642.75" y="529.60" width="9.6" height="9.6" fill="none" stroke="#3018a0" stroke-width="1.35"/>
<path d="M647.55,532.30V536.50M645.95,532.30h3.2M645.95,536.50h3.2" fill="none" stroke="#3018a0" stroke-width="0.95"/>
<rect x="699.65" y="530.30" width="9.6" height="9.6" fill="none" stroke="#3018a0" stroke-width="1.35"/>
<path d="M704.45,533.00V537.20M702.85,533.00h3.2M702.85,537.20h3.2" fill="none" stroke="#3018a0" stroke-width="0.95"/>
<rect x="726.10" y="531.80" width="9.6" height="9.6" fill="none" stroke="#3018a0" stroke-width="1.35"/>
<path d="M730.90,534.50V538.70M729.30,534.50h3.2M729.30,538.70h3.2" fill="none" stroke="#3018a0" stroke-width="0.95"/>
<rect x="743.53" y="534.20" width="9.6" height="9.6" fill="none" stroke="#3018a0" stroke-width="1.35"/>
<path d="M748.33,536.90V541.10M746.73,536.90h3.2M746.73,541.10h3.2" fill="none" stroke="#3018a0" stroke-width="0.95"/>
<rect x="762.00" y="534.20" width="9.6" height="9.6" fill="none" stroke="#3018a0" stroke-width="1.35"/>
<path d="M766.80,536.90V541.10M765.20,536.90h3.2M765.20,541.10h3.2" fill="none" stroke="#3018a0" stroke-width="0.95"/>
<path d="M666.0,390.4H705.2" stroke="#f396c0" stroke-width="1.1" stroke-dasharray="8 7.8" fill="none"/>
<path d="M666.0,410.5H705.2" stroke="#f396c0" stroke-width="1.15" fill="none"/>
<circle cx="685.70" cy="431.40" r="4.9" fill="none" stroke="#f396c0" stroke-width="1.2"/>
<path d="M685.70,419.80V443.00M683.90,419.80h3.6M683.90,443.00h3.6" fill="none" stroke="#f396c0" stroke-width="1.1"/>
<path d="M666.0,452.3H705.2" stroke="#3018a0" stroke-width="1.1" stroke-dasharray="8 7.8" fill="none"/>
<path d="M666.0,472.5H705.2" stroke="#3018a0" stroke-width="1.15" fill="none"/>
<rect x="680.90" y="488.70" width="9.6" height="9.6" fill="none" stroke="#3018a0" stroke-width="1.35"/>
<path d="M685.70,481.90V505.10M683.90,481.90h3.6M683.90,505.10h3.6" fill="none" stroke="#3018a0" stroke-width="1.1"/>
<g transform="translate(650.00,634.40)" fill="none" stroke="#111" stroke-linecap="round" stroke-linejoin="round"><path d="M0.1,6.3 C0.7,3.8 2.4,1.7 4.8,1.1" stroke-width="1.15"/><path d="M3.9,1.5 C6.9,0.3 9.3,2.4 10.7,6.0 C11.5,8.0 11.9,10.0 12.0,11.6" stroke-width="1.75"/><path d="M16.7,0.7 L12.2,11.4" stroke-width="0.95"/><path d="M12.3,10.8 L9.3,21.2" stroke-width="1.45"/></g>
<circle cx="658.50" cy="629.10" r="1.9" fill="#111"/>
<path d="M674.30,625.70L674.30,634.30M670.12,627.78L678.48,632.22M678.48,627.78L670.12,632.22" stroke="#111" stroke-width="1.45" stroke-linecap="round" fill="none"/>
<g style="mix-blend-mode:multiply" fill="#000">
<text x="75.20" y="16.80" font-size="14.5" text-anchor="end">10<tspan font-size="11.2" dy="-6.4">6</tspan></text>
<text x="75.20" y="84.80" font-size="14.5" text-anchor="end">10<tspan font-size="11.2" dy="-6.4">4</tspan></text>
<text x="75.20" y="152.80" font-size="14.5" text-anchor="end">10<tspan font-size="11.2" dy="-6.4">2</tspan></text>
<text x="75.20" y="220.80" font-size="14.5" text-anchor="end">10<tspan font-size="11.2" dy="-6.4">0</tspan></text>
<text x="83.70" y="252.60" font-size="14.5" text-anchor="middle">10<tspan font-size="11.2" dy="-6.4">-1</tspan></text>
<text x="214.10" y="252.60" font-size="14.5" text-anchor="middle">10<tspan font-size="11.2" dy="-6.4">0</tspan></text>
<text x="344.50" y="252.60" font-size="14.5" text-anchor="middle">10<tspan font-size="11.2" dy="-6.4">1</tspan></text>
<text x="155.40" y="37.10" font-size="14.92" text-anchor="middle">0.9 (theory, linear)</text>
<text x="155.40" y="57.50" font-size="14.92" text-anchor="middle">0.9 (theory, 6th)</text>
<text x="155.40" y="78.20" font-size="14.92" text-anchor="middle">0.9 (sim.)</text>
<text x="155.40" y="98.90" font-size="14.92" text-anchor="middle">1.0 (theory, linear)</text>
<text x="155.40" y="119.50" font-size="14.92" text-anchor="middle">1.0 (theory, 6th)</text>
<text x="155.40" y="140.00" font-size="14.92" text-anchor="middle">1.0 (sim.)</text>
<text transform="translate(15.2,134.0) scale(0.9,1)" style="font-family:&quot;Liberation Serif&quot;,serif;font-style:italic" font-size="33.5">θ</text>
<text x="217.30" y="336.20" style="font-family:&quot;Liberation Serif&quot;,serif" font-size="30.5">(a)</text>
<text x="507.60" y="16.80" font-size="14.5" text-anchor="end">10<tspan font-size="11.2" dy="-6.4">4</tspan></text>
<text x="507.60" y="127.30" font-size="14.5" text-anchor="end">10<tspan font-size="11.2" dy="-6.4">2</tspan></text>
<text x="507.60" y="237.80" font-size="14.5" text-anchor="end">10<tspan font-size="11.2" dy="-6.4">0</tspan></text>
<text x="516.20" y="252.60" font-size="14.5" text-anchor="middle">10<tspan font-size="11.2" dy="-6.4">-1</tspan></text>
<text x="646.40" y="252.60" font-size="14.5" text-anchor="middle">10<tspan font-size="11.2" dy="-6.4">0</tspan></text>
<text x="776.60" y="252.60" font-size="14.5" text-anchor="middle">10<tspan font-size="11.2" dy="-6.4">1</tspan></text>
<text x="587.90" y="37.10" font-size="14.92" text-anchor="middle">0.9 (theory, linear)</text>
<text x="587.90" y="57.50" font-size="14.92" text-anchor="middle">0.9 (theory, 6th)</text>
<text x="587.90" y="78.20" font-size="14.92" text-anchor="middle">0.9 (sim.)</text>
<text x="587.90" y="98.90" font-size="14.92" text-anchor="middle">1.0 (theory, linear)</text>
<text x="587.90" y="119.50" font-size="14.92" text-anchor="middle">1.0 (theory, 6th)</text>
<text x="587.90" y="140.00" font-size="14.92" text-anchor="middle">1.0 (sim.)</text>
<text x="649.80" y="336.20" style="font-family:&quot;Liberation Serif&quot;,serif" font-size="30.5">(b)</text>
<text x="73.40" y="373.50" font-size="15.0" text-anchor="end">0.3</text>
<text x="73.40" y="447.30" font-size="15.0" text-anchor="end">0.2</text>
<text x="73.40" y="521.00" font-size="15.0" text-anchor="end">0.1</text>
<text x="73.40" y="594.70" font-size="15.0" text-anchor="end">0.0</text>
<text x="82.20" y="610.50" font-size="14.5" text-anchor="middle">10<tspan font-size="11.2" dy="-6.4">-1</tspan></text>
<text x="208.75" y="610.50" font-size="14.5" text-anchor="middle">10<tspan font-size="11.2" dy="-6.4">0</tspan></text>
<text x="335.30" y="610.50" font-size="14.5" text-anchor="middle">10<tspan font-size="11.2" dy="-6.4">1</tspan></text>
<text x="148.70" y="395.40" font-size="14.92" text-anchor="middle">0.9 (theory, linear)</text>
<text x="148.70" y="415.50" font-size="14.92" text-anchor="middle">0.9 (theory, 6th)</text>
<text x="148.70" y="436.40" font-size="14.92" text-anchor="middle">0.9 (sim.)</text>
<text x="148.70" y="457.30" font-size="14.92" text-anchor="middle">1.0 (theory, linear)</text>
<text x="148.70" y="477.50" font-size="14.92" text-anchor="middle">1.0 (theory, 6th)</text>
<text x="148.70" y="498.50" font-size="14.92" text-anchor="middle">1.0 (sim.)</text>
<text transform="translate(-0.50,483.6) scale(1.16,1)" style="font-family:&quot;Liberation Serif&quot;,serif;font-style:italic" font-size="33">N</text>
<text transform="translate(29.50,470.5) scale(1.14,1)" style="font-family:&quot;Liberation Serif&quot;,serif;font-style:italic" font-size="22.3">k</text>
<text transform="translate(26.10,492.3) scale(1.15,1)" style="font-family:&quot;Liberation Serif&quot;,serif" font-size="18.5">1</text>
<text x="217.30" y="694.00" style="font-family:&quot;Liberation Serif&quot;,serif" font-size="30.5">(c)</text>
<text x="519.10" y="373.60" font-size="15.0" text-anchor="end">0.40</text>
<text x="519.10" y="416.15" font-size="15.0" text-anchor="end">0.30</text>
<text x="519.10" y="458.70" font-size="15.0" text-anchor="end">0.20</text>
<text x="519.10" y="501.25" font-size="15.0" text-anchor="end">0.10</text>
<text x="519.10" y="543.80" font-size="15.0" text-anchor="end">0.00</text>
<text x="519.10" y="586.35" font-size="15.0" text-anchor="end">-0.10</text>
<text x="528.00" y="610.50" font-size="14.5" text-anchor="middle">10<tspan font-size="11.2" dy="-6.4">-1</tspan></text>
<text x="647.25" y="610.50" font-size="14.5" text-anchor="middle">10<tspan font-size="11.2" dy="-6.4">0</tspan></text>
<text x="766.50" y="610.50" font-size="14.5" text-anchor="middle">10<tspan font-size="11.2" dy="-6.4">1</tspan></text>
<text x="597.90" y="395.40" font-size="14.92" text-anchor="middle">0.9 (theory, linear)</text>
<text x="597.90" y="415.50" font-size="14.92" text-anchor="middle">0.9 (theory, 6th)</text>
<text x="597.90" y="436.40" font-size="14.92" text-anchor="middle">0.9 (sim.)</text>
<text x="597.90" y="457.30" font-size="14.92" text-anchor="middle">1.0 (theory, linear)</text>
<text x="597.90" y="477.50" font-size="14.92" text-anchor="middle">1.0 (theory, 6th)</text>
<text x="597.90" y="498.50" font-size="14.92" text-anchor="middle">1.0 (sim.)</text>
<text transform="translate(432.10,483.6) scale(1.16,1)" style="font-family:&quot;Liberation Serif&quot;,serif;font-style:italic" font-size="33">N</text>
<text transform="translate(462.10,470.5) scale(1.14,1)" style="font-family:&quot;Liberation Serif&quot;,serif;font-style:italic" font-size="22.3">k</text>
<text transform="translate(458.70,492.3) scale(1.15,1)" style="font-family:&quot;Liberation Serif&quot;,serif" font-size="18.5">2</text>
<text x="649.80" y="694.00" style="font-family:&quot;Liberation Serif&quot;,serif" font-size="30.5">(d)</text>
</g>
</svg>
</body></html>
